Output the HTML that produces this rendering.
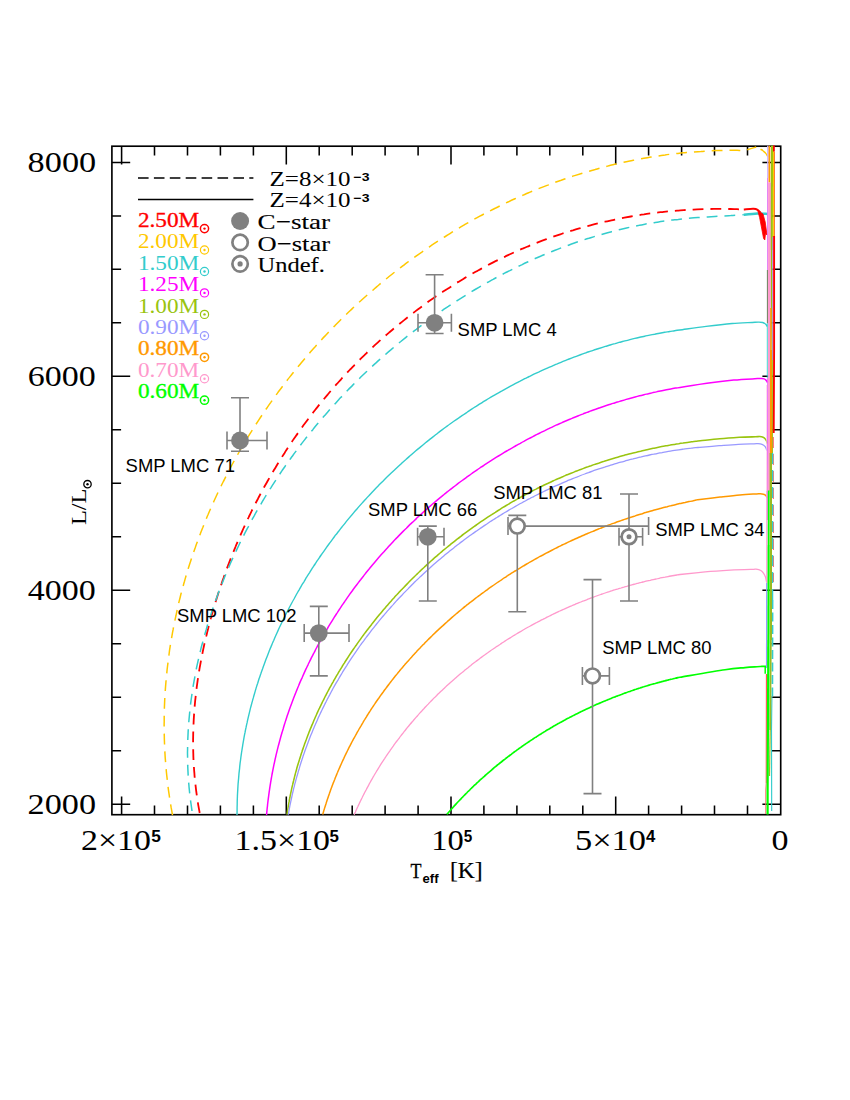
<!DOCTYPE html>
<html><head><meta charset="utf-8"><title>L vs Teff</title>
<style>html,body{margin:0;padding:0;background:#fff}svg{display:block}text{font-family:"Liberation Serif",serif}.s{font-family:"Liberation Sans",sans-serif}</style>
</head><body>
<svg width="850" height="1100" viewBox="0 0 850 1100">
<rect width="850" height="1100" fill="#fff"/>
<g stroke="#000" stroke-width="1.55" fill="none">
<path d="M747.5 814.8v-9.2M747.5 146.2v9.2M714.5 814.8v-9.2M714.5 146.2v9.2M681.6 814.8v-9.2M681.6 146.2v9.2M648.6 814.8v-9.2M648.6 146.2v9.2M615.7 814.8v-18.3M615.7 146.2v18.3M582.8 814.8v-9.2M582.8 146.2v9.2M549.8 814.8v-9.2M549.8 146.2v9.2M516.9 814.8v-9.2M516.9 146.2v9.2M483.9 814.8v-9.2M483.9 146.2v9.2M451.0 814.8v-18.3M451.0 146.2v18.3M418.1 814.8v-9.2M418.1 146.2v9.2M385.1 814.8v-9.2M385.1 146.2v9.2M352.2 814.8v-9.2M352.2 146.2v9.2M319.2 814.8v-9.2M319.2 146.2v9.2M286.3 814.8v-18.3M286.3 146.2v18.3M253.4 814.8v-9.2M253.4 146.2v9.2M220.4 814.8v-9.2M220.4 146.2v9.2M187.5 814.8v-9.2M187.5 146.2v9.2M154.5 814.8v-9.2M154.5 146.2v9.2M121.6 814.8v-18.3M121.6 146.2v18.3M111.9 804.3h18.3M780.7 804.3h-18.3M111.9 750.8h9.2M780.7 750.8h-9.2M111.9 697.3h9.2M780.7 697.3h-9.2M111.9 643.8h9.2M780.7 643.8h-9.2M111.9 590.3h18.3M780.7 590.3h-18.3M111.9 536.8h9.2M780.7 536.8h-9.2M111.9 483.3h9.2M780.7 483.3h-9.2M111.9 429.8h9.2M780.7 429.8h-9.2M111.9 376.3h18.3M780.7 376.3h-18.3M111.9 322.8h9.2M780.7 322.8h-9.2M111.9 269.3h9.2M780.7 269.3h-9.2M111.9 215.9h9.2M780.7 215.9h-9.2M111.9 162.4h18.3M780.7 162.4h-18.3"/>
</g>
<rect x="111.9" y="146.2" width="668.8" height="668.5" fill="none" stroke="#000" stroke-width="1.65"/>
<g fill="none" stroke-linejoin="round">
<path d="M172.5 815.1C172.3 813.9 171.7 810.3 171.2 807.9C170.8 805.5 170.4 803.1 170.1 800.8C169.7 798.4 169.3 796.0 169.0 793.6C168.6 791.2 168.3 788.8 168.0 786.4C167.7 784.0 167.4 781.6 167.2 779.2C166.9 776.8 166.6 774.4 166.4 772.0C166.2 769.6 166.0 767.2 165.8 764.8C165.6 762.4 165.4 760.0 165.2 757.6C165.1 755.2 164.9 752.8 164.8 750.4C164.7 748.0 164.6 745.6 164.5 743.2C164.4 740.9 164.3 738.5 164.3 736.1C164.2 733.7 164.2 731.3 164.2 728.9C164.1 726.5 164.1 724.1 164.2 721.7C164.2 719.4 164.2 717.0 164.2 714.6C164.3 712.2 164.4 709.8 164.4 707.5C164.5 705.1 164.6 702.7 164.7 700.3C164.8 697.9 165.0 695.6 165.1 693.2C165.3 690.8 165.4 688.5 165.6 686.1C165.8 683.7 166.0 681.4 166.2 679.0C166.4 676.6 166.7 674.3 166.9 671.9C167.1 669.5 167.4 667.2 167.7 664.8C168.0 662.5 168.3 660.1 168.6 657.8C168.9 655.4 169.2 653.1 169.5 650.7C169.9 648.4 170.2 646.0 170.6 643.7C171.0 641.4 171.4 639.0 171.8 636.7C172.2 634.4 172.6 632.0 173.1 629.7C173.5 627.4 173.9 625.0 174.4 622.7C174.9 620.4 175.4 618.1 175.9 615.8C176.4 613.5 176.9 611.1 177.4 608.8C177.9 606.5 178.5 604.2 179.0 601.9C179.6 599.6 180.2 597.3 180.7 595.0C181.3 592.7 181.9 590.4 182.6 588.2C183.2 585.9 183.8 583.6 184.5 581.3C185.1 579.0 185.8 576.8 186.4 574.5C187.1 572.2 187.8 570.0 188.5 567.7C189.2 565.4 189.9 563.2 190.7 560.9C191.4 558.7 192.2 556.4 192.9 554.2C193.7 551.9 194.5 549.7 195.3 547.5C196.0 545.2 196.9 543.0 197.7 540.8C198.5 538.6 199.3 536.3 200.2 534.1C201.0 531.9 201.9 529.7 202.8 527.5C203.6 525.3 204.5 523.1 205.4 520.9C206.3 518.7 207.2 516.5 208.2 514.3C209.1 512.1 210.0 510.0 211.0 507.8C212.0 505.6 212.9 503.4 213.9 501.3C214.9 499.1 215.9 497.0 216.9 494.8C217.9 492.7 218.9 490.5 220.0 488.4C221.0 486.2 222.0 484.1 223.1 482.0C224.2 479.9 225.2 477.7 226.3 475.6C227.4 473.5 228.5 471.4 229.6 469.3C230.7 467.2 231.9 465.1 233.0 463.0C234.1 460.9 235.3 458.8 236.5 456.8C237.6 454.7 238.8 452.6 240.0 450.5C241.2 448.5 242.4 446.4 243.6 444.4C244.8 442.3 246.0 440.3 247.3 438.2C248.5 436.2 249.7 434.2 251.0 432.2C252.3 430.1 253.5 428.1 254.8 426.1C256.1 424.1 257.4 422.1 258.7 420.1C260.0 418.1 261.3 416.1 262.7 414.2C264.0 412.2 265.3 410.2 266.7 408.3C268.0 406.3 269.4 404.3 270.8 402.4C272.2 400.4 273.5 398.5 274.9 396.6C276.3 394.6 277.8 392.7 279.2 390.8C280.6 388.9 282.0 387.0 283.5 385.1C284.9 383.2 286.4 381.3 287.8 379.4C289.3 377.5 290.8 375.7 292.3 373.8C293.8 371.9 295.3 370.1 296.8 368.2C298.3 366.4 299.8 364.5 301.3 362.7C302.9 360.9 304.4 359.0 305.9 357.2C307.5 355.4 309.1 353.6 310.6 351.8C312.2 350.0 313.8 348.2 315.4 346.5C317.0 344.7 318.6 342.9 320.2 341.2C321.8 339.4 323.4 337.6 325.1 335.9C326.7 334.2 328.3 332.4 330.0 330.7C331.6 329.0 333.3 327.3 335.0 325.6C336.6 323.9 338.3 322.2 340.0 320.5C341.7 318.8 343.4 317.1 345.1 315.5C346.8 313.8 348.5 312.2 350.3 310.5C352.0 308.9 353.7 307.2 355.5 305.6C357.2 304.0 359.0 302.4 360.8 300.8C362.5 299.2 364.3 297.6 366.1 296.0C367.9 294.4 369.7 292.8 371.5 291.3C373.3 289.7 375.1 288.2 376.9 286.6C378.7 285.1 380.5 283.5 382.4 282.0C384.2 280.5 386.1 279.0 387.9 277.5C389.8 276.0 391.6 274.5 393.5 273.0C395.4 271.6 397.3 270.1 399.2 268.7C401.0 267.2 402.9 265.8 404.8 264.3C406.7 262.9 408.7 261.5 410.6 260.1C412.5 258.7 414.4 257.3 416.4 255.9C418.3 254.5 420.2 253.1 422.2 251.8C424.2 250.4 426.1 249.0 428.1 247.7C430.0 246.4 432.0 245.0 434.0 243.7C436.0 242.4 438.0 241.1 440.0 239.8C442.0 238.5 444.0 237.2 446.0 236.0C448.0 234.7 450.0 233.5 452.1 232.2C454.1 231.0 456.1 229.7 458.2 228.5C460.2 227.3 462.3 226.1 464.3 224.9C466.4 223.7 468.4 222.5 470.5 221.4C472.6 220.2 474.6 219.0 476.7 217.9C478.8 216.8 480.9 215.6 483.0 214.5C485.1 213.4 487.2 212.3 489.3 211.2C491.4 210.1 493.5 209.0 495.7 208.0C497.8 206.9 499.9 205.9 502.1 204.8C504.2 203.8 506.3 202.8 508.5 201.8C510.6 200.7 512.8 199.7 514.9 198.8C517.1 197.8 519.3 196.8 521.4 195.9C523.6 194.9 525.8 194.0 528.0 193.0C530.2 192.1 532.4 191.2 534.6 190.3C536.7 189.4 538.9 188.5 541.2 187.6C543.4 186.8 545.6 185.9 547.8 185.1C550.0 184.2 552.2 183.4 554.5 182.6C556.7 181.7 558.9 180.9 561.2 180.2C563.4 179.4 565.7 178.6 567.9 177.8C570.2 177.1 572.4 176.3 574.7 175.6C576.9 174.9 579.2 174.2 581.5 173.5C583.7 172.8 586.0 172.1 588.3 171.4C590.6 170.8 592.8 170.1 595.1 169.5C597.4 168.8 599.7 168.2 602.0 167.6C604.3 167.0 606.6 166.4 608.9 165.8C611.2 165.2 613.5 164.7 615.9 164.1C618.2 163.6 620.5 163.0 622.8 162.5C625.1 162.0 627.5 161.5 629.8 161.0C632.1 160.5 634.5 160.1 636.8 159.6C639.2 159.2 641.5 158.7 643.8 158.3C646.2 157.9 648.5 157.5 650.9 157.1C653.3 156.7 655.6 156.3 658.0 156.0C660.3 155.6 662.7 155.3 665.1 155.0C667.4 154.6 669.8 154.3 672.2 154.0C674.6 153.7 677.0 153.5 679.3 153.2C681.7 153.0 684.1 152.7 686.5 152.5C688.9 152.3 691.3 152.1 693.7 151.9C696.1 151.7 698.5 151.5 700.9 151.4C703.3 151.2 705.7 151.1 708.1 150.9C710.5 150.8 712.9 150.7 715.3 150.6C717.7 150.5 720.1 150.5 722.6 150.4C725.0 150.4 727.4 150.3 729.8 150.3C732.2 150.3 734.7 150.3 737.1 150.3C739.5 150.3 741.2 151.0 744.4 150.4C747.6 149.9 754.2 147.6 756.2 147.0" stroke="#ffc800" stroke-width="1.5" stroke-dasharray="10.8 7"/>
<path d="M199.7 813.0C199.5 811.9 198.9 808.6 198.5 806.4C198.1 804.2 197.8 802.0 197.4 799.8C197.1 797.6 196.8 795.4 196.5 793.2C196.2 791.0 195.9 788.8 195.7 786.6C195.4 784.4 195.2 782.2 194.9 780.0C194.7 777.8 194.5 775.6 194.4 773.3C194.2 771.1 194.0 768.9 193.9 766.7C193.7 764.5 193.6 762.3 193.5 760.1C193.4 757.9 193.3 755.7 193.3 753.5C193.2 751.3 193.2 749.0 193.2 746.8C193.1 744.6 193.1 742.4 193.1 740.2C193.1 738.0 193.2 735.8 193.2 733.6C193.3 731.4 193.3 729.2 193.4 727.0C193.5 724.8 193.6 722.6 193.7 720.3C193.8 718.1 194.0 715.9 194.1 713.7C194.3 711.5 194.4 709.3 194.6 707.1C194.8 704.9 195.0 702.7 195.2 700.5C195.5 698.3 195.7 696.1 195.9 694.0C196.2 691.8 196.5 689.6 196.7 687.4C197.0 685.2 197.3 683.0 197.6 680.8C198.0 678.6 198.3 676.4 198.6 674.3C199.0 672.1 199.3 669.9 199.7 667.7C200.1 665.5 200.5 663.3 200.9 661.2C201.3 659.0 201.7 656.8 202.2 654.7C202.6 652.5 203.0 650.3 203.5 648.1C204.0 646.0 204.4 643.8 204.9 641.7C205.4 639.5 205.9 637.3 206.5 635.2C207.0 633.0 207.5 630.9 208.1 628.7C208.6 626.6 209.2 624.4 209.7 622.3C210.3 620.2 210.9 618.0 211.5 615.9C212.1 613.7 212.7 611.6 213.3 609.5C213.9 607.3 214.6 605.2 215.2 603.1C215.9 601.0 216.5 598.9 217.2 596.7C217.9 594.6 218.6 592.5 219.2 590.4C219.9 588.3 220.6 586.2 221.4 584.1C222.1 582.0 222.8 579.9 223.6 577.8C224.3 575.7 225.0 573.6 225.8 571.6C226.6 569.5 227.3 567.4 228.1 565.3C228.9 563.3 229.7 561.2 230.5 559.1C231.3 557.1 232.1 555.0 233.0 552.9C233.8 550.9 234.6 548.8 235.5 546.8C236.3 544.7 237.2 542.7 238.1 540.7C238.9 538.6 239.8 536.6 240.7 534.6C241.6 532.6 242.5 530.5 243.4 528.5C244.3 526.5 245.3 524.5 246.2 522.5C247.1 520.5 248.1 518.5 249.0 516.5C250.0 514.5 251.0 512.5 251.9 510.5C252.9 508.5 253.9 506.6 254.9 504.6C255.9 502.6 256.9 500.7 258.0 498.7C259.0 496.7 260.0 494.8 261.1 492.8C262.1 490.9 263.2 489.0 264.2 487.0C265.3 485.1 266.4 483.2 267.5 481.2C268.6 479.3 269.7 477.4 270.8 475.5C271.9 473.6 273.0 471.7 274.1 469.8C275.3 467.9 276.4 466.0 277.6 464.1C278.7 462.2 279.9 460.3 281.0 458.5C282.2 456.6 283.4 454.7 284.6 452.9C285.8 451.0 287.0 449.2 288.2 447.3C289.4 445.5 290.7 443.6 291.9 441.8C293.1 440.0 294.4 438.2 295.7 436.3C296.9 434.5 298.2 432.7 299.5 430.9C300.7 429.1 302.0 427.3 303.3 425.5C304.6 423.8 306.0 422.0 307.3 420.2C308.6 418.4 309.9 416.7 311.3 414.9C312.6 413.2 314.0 411.4 315.3 409.7C316.7 408.0 318.1 406.2 319.5 404.5C320.9 402.8 322.3 401.1 323.7 399.4C325.1 397.6 326.5 395.9 327.9 394.3C329.3 392.6 330.8 390.9 332.2 389.2C333.7 387.5 335.1 385.9 336.6 384.2C338.1 382.6 339.6 380.9 341.1 379.3C342.5 377.6 344.1 376.0 345.6 374.4C347.1 372.8 348.6 371.1 350.1 369.5C351.7 367.9 353.2 366.3 354.7 364.8C356.3 363.2 357.9 361.6 359.4 360.0C361.0 358.5 362.6 356.9 364.2 355.4C365.8 353.8 367.4 352.3 369.0 350.7C370.6 349.2 372.2 347.7 373.8 346.2C375.4 344.7 377.1 343.2 378.7 341.7C380.4 340.2 382.0 338.7 383.7 337.2C385.3 335.8 387.0 334.3 388.7 332.9C390.4 331.4 392.1 330.0 393.8 328.5C395.5 327.1 397.2 325.7 398.9 324.3C400.6 322.9 402.3 321.5 404.1 320.1C405.8 318.7 407.5 317.3 409.3 316.0C411.0 314.6 412.8 313.3 414.6 311.9C416.3 310.6 418.1 309.2 419.9 307.9C421.7 306.6 423.4 305.3 425.2 304.0C427.0 302.7 428.8 301.4 430.7 300.1C432.5 298.9 434.3 297.6 436.1 296.3C438.0 295.1 439.8 293.8 441.6 292.6C443.5 291.4 445.3 290.2 447.2 289.0C449.0 287.8 450.9 286.6 452.8 285.4C454.7 284.2 456.5 283.0 458.4 281.9C460.3 280.7 462.2 279.6 464.1 278.4C466.0 277.3 467.9 276.2 469.8 275.1C471.8 274.0 473.7 272.9 475.6 271.8C477.5 270.7 479.5 269.7 481.4 268.6C483.4 267.5 485.3 266.5 487.3 265.5C489.2 264.4 491.2 263.4 493.2 262.4C495.1 261.4 497.1 260.4 499.1 259.5C501.1 258.5 503.1 257.5 505.1 256.6C507.1 255.6 509.1 254.7 511.1 253.7C513.1 252.8 515.1 251.9 517.1 251.0C519.1 250.1 521.1 249.2 523.2 248.4C525.2 247.5 527.2 246.7 529.3 245.8C531.3 245.0 533.4 244.1 535.4 243.3C537.5 242.5 539.5 241.7 541.6 240.9C543.7 240.2 545.7 239.4 547.8 238.6C549.9 237.9 551.9 237.1 554.0 236.4C556.1 235.7 558.2 235.0 560.3 234.3C562.4 233.6 564.5 232.9 566.6 232.2C568.7 231.6 570.8 230.9 572.9 230.3C575.0 229.6 577.1 229.0 579.3 228.4C581.4 227.8 583.5 227.2 585.6 226.6C587.8 226.0 589.9 225.5 592.0 224.9C594.2 224.3 596.3 223.8 598.5 223.3C600.6 222.8 602.7 222.2 604.9 221.7C607.1 221.3 609.2 220.8 611.4 220.3C613.5 219.8 615.7 219.4 617.9 218.9C620.0 218.5 622.2 218.1 624.4 217.7C626.5 217.3 628.7 216.9 630.9 216.5C633.1 216.1 635.3 215.7 637.4 215.4C639.6 215.0 641.8 214.7 644.0 214.4C646.2 214.0 648.4 213.7 650.6 213.4C652.8 213.1 655.0 212.9 657.2 212.6C659.4 212.3 661.6 212.1 663.8 211.8C666.0 211.6 668.2 211.4 670.4 211.2C672.6 211.0 674.8 210.8 677.0 210.6C679.2 210.4 681.5 210.3 683.7 210.1C685.9 210.0 688.1 209.8 690.3 209.7C692.5 209.6 694.8 209.5 697.0 209.4C699.2 209.3 701.4 209.2 703.7 209.1C705.9 209.1 708.1 209.0 710.3 209.0C712.6 209.0 714.8 208.9 717.0 208.9C719.2 208.9 721.5 208.9 723.7 208.9C725.9 209.0 728.2 209.0 730.4 209.0C732.6 209.1 734.8 209.2 737.1 209.2C739.3 209.3 742.6 209.4 743.8 209.5" stroke="#ff0000" stroke-width="1.8" stroke-dasharray="10.8 7"/>
<path d="M743.8 209.5C745.4 209.4 751.1 208.7 753.4 208.8C755.7 208.9 756.4 209.2 757.6 209.9C758.8 210.6 760.0 212.2 760.5 212.7" stroke="#ff0000" stroke-width="2.0"/>
<path d="M192.0 811.0C191.9 809.9 191.4 806.7 191.1 804.5C190.8 802.4 190.5 800.2 190.2 798.0C189.9 795.8 189.7 793.7 189.5 791.5C189.3 789.3 189.0 787.1 188.9 785.0C188.7 782.8 188.5 780.6 188.4 778.4C188.2 776.3 188.1 774.1 188.0 771.9C187.9 769.7 187.8 767.6 187.7 765.4C187.7 763.2 187.6 761.0 187.6 758.8C187.6 756.7 187.5 754.5 187.5 752.3C187.6 750.1 187.6 748.0 187.6 745.8C187.7 743.6 187.7 741.4 187.8 739.3C187.9 737.1 188.0 734.9 188.1 732.7C188.2 730.6 188.3 728.4 188.5 726.2C188.6 724.1 188.8 721.9 189.0 719.7C189.2 717.6 189.4 715.4 189.6 713.2C189.8 711.1 190.0 708.9 190.3 706.7C190.5 704.6 190.8 702.4 191.1 700.2C191.4 698.1 191.7 695.9 192.0 693.8C192.3 691.6 192.6 689.5 193.0 687.3C193.3 685.2 193.7 683.0 194.1 680.9C194.5 678.7 194.9 676.6 195.3 674.4C195.7 672.3 196.1 670.2 196.5 668.0C197.0 665.9 197.4 663.8 197.9 661.6C198.4 659.5 198.9 657.4 199.4 655.2C199.9 653.1 200.4 651.0 200.9 648.9C201.4 646.8 202.0 644.6 202.6 642.5C203.1 640.4 203.7 638.3 204.3 636.2C204.9 634.1 205.5 632.0 206.1 629.9C206.7 627.8 207.3 625.7 207.9 623.6C208.6 621.5 209.2 619.4 209.9 617.4C210.6 615.3 211.3 613.2 212.0 611.1C212.6 609.1 213.4 607.0 214.1 604.9C214.8 602.9 215.5 600.8 216.3 598.8C217.0 596.7 217.8 594.7 218.5 592.6C219.3 590.6 220.1 588.5 220.9 586.5C221.7 584.5 222.5 582.4 223.3 580.4C224.1 578.4 224.9 576.4 225.8 574.3C226.6 572.3 227.5 570.3 228.3 568.3C229.2 566.3 230.0 564.3 230.9 562.3C231.8 560.3 232.7 558.3 233.6 556.4C234.5 554.4 235.4 552.4 236.4 550.4C237.3 548.5 238.2 546.5 239.2 544.5C240.1 542.6 241.1 540.6 242.1 538.7C243.1 536.7 244.0 534.8 245.0 532.9C246.0 530.9 247.0 529.0 248.1 527.1C249.1 525.2 250.1 523.2 251.1 521.3C252.2 519.4 253.2 517.5 254.3 515.6C255.3 513.7 256.4 511.8 257.5 509.9C258.6 508.0 259.7 506.2 260.8 504.3C261.9 502.4 263.0 500.5 264.1 498.7C265.2 496.8 266.4 495.0 267.5 493.1C268.6 491.3 269.8 489.4 271.0 487.6C272.1 485.7 273.3 483.9 274.5 482.1C275.7 480.3 276.9 478.4 278.1 476.6C279.3 474.8 280.5 473.0 281.7 471.2C282.9 469.4 284.2 467.6 285.4 465.8C286.7 464.1 287.9 462.3 289.2 460.5C290.4 458.7 291.7 457.0 293.0 455.2C294.3 453.4 295.6 451.7 296.9 450.0C298.2 448.2 299.5 446.5 300.8 444.7C302.1 443.0 303.5 441.3 304.8 439.6C306.1 437.9 307.5 436.1 308.9 434.4C310.2 432.7 311.6 431.0 313.0 429.4C314.3 427.7 315.7 426.0 317.1 424.3C318.5 422.6 319.9 421.0 321.3 419.3C322.7 417.6 324.2 416.0 325.6 414.4C327.0 412.7 328.5 411.1 329.9 409.4C331.4 407.8 332.8 406.2 334.3 404.6C335.8 403.0 337.2 401.3 338.7 399.7C340.2 398.1 341.7 396.6 343.2 395.0C344.7 393.4 346.2 391.8 347.7 390.2C349.3 388.7 350.8 387.1 352.3 385.6C353.9 384.0 355.4 382.5 357.0 380.9C358.5 379.4 360.1 377.9 361.6 376.3C363.2 374.8 364.8 373.3 366.4 371.8C368.0 370.3 369.6 368.8 371.2 367.3C372.8 365.8 374.4 364.3 376.0 362.9C377.6 361.4 379.2 359.9 380.9 358.5C382.5 357.0 384.1 355.6 385.8 354.2C387.4 352.7 389.1 351.3 390.8 349.9C392.4 348.5 394.1 347.0 395.8 345.6C397.4 344.2 399.1 342.8 400.8 341.5C402.5 340.1 404.2 338.7 405.9 337.3C407.6 336.0 409.4 334.6 411.1 333.3C412.8 331.9 414.5 330.6 416.3 329.3C418.0 327.9 419.7 326.6 421.5 325.3C423.2 324.0 425.0 322.7 426.8 321.4C428.5 320.1 430.3 318.9 432.1 317.6C433.9 316.3 435.6 315.1 437.4 313.8C439.2 312.6 441.0 311.3 442.8 310.1C444.6 308.9 446.4 307.6 448.3 306.4C450.1 305.2 451.9 304.0 453.7 302.8C455.6 301.6 457.4 300.4 459.2 299.3C461.1 298.1 462.9 297.0 464.8 295.8C466.6 294.7 468.5 293.5 470.4 292.4C472.2 291.3 474.1 290.1 476.0 289.0C477.9 287.9 479.8 286.8 481.6 285.7C483.5 284.7 485.4 283.6 487.3 282.5C489.2 281.5 491.1 280.4 493.1 279.4C495.0 278.3 496.9 277.3 498.8 276.3C500.7 275.2 502.7 274.2 504.6 273.2C506.5 272.2 508.5 271.3 510.4 270.3C512.4 269.3 514.3 268.3 516.3 267.4C518.2 266.4 520.2 265.5 522.2 264.6C524.1 263.6 526.1 262.7 528.1 261.8C530.1 260.9 532.0 260.0 534.0 259.1C536.0 258.2 538.0 257.4 540.0 256.5C542.0 255.6 544.0 254.8 546.0 254.0C548.0 253.1 550.0 252.3 552.0 251.5C554.0 250.7 556.1 249.9 558.1 249.1C560.1 248.3 562.1 247.5 564.2 246.8C566.2 246.0 568.3 245.3 570.3 244.5C572.3 243.8 574.4 243.1 576.4 242.3C578.5 241.6 580.5 240.9 582.6 240.3C584.7 239.6 586.7 238.9 588.8 238.3C590.9 237.6 593.0 237.0 595.0 236.3C597.1 235.7 599.2 235.1 601.3 234.5C603.4 233.9 605.5 233.3 607.6 232.7C609.6 232.2 611.8 231.6 613.9 231.1C616.0 230.5 618.1 230.0 620.2 229.5C622.3 229.0 624.4 228.5 626.5 228.0C628.7 227.5 630.8 227.0 632.9 226.6C635.0 226.1 637.2 225.7 639.3 225.3C641.4 224.8 643.6 224.4 645.7 224.0C647.9 223.7 650.0 223.3 652.2 222.9C654.3 222.6 656.5 222.2 658.7 221.9C660.8 221.6 663.0 221.2 665.1 221.0C667.3 220.7 669.5 220.4 671.7 220.1C673.8 219.9 676.0 219.6 678.2 219.4C680.4 219.1 682.6 218.9 684.8 218.7C687.0 218.5 689.1 218.3 691.3 218.1C693.5 218.0 695.7 217.8 697.9 217.6C700.1 217.5 702.3 217.3 704.5 217.2C706.7 217.0 708.9 216.9 711.1 216.7C713.3 216.6 715.5 216.5 717.6 216.3C719.8 216.2 722.0 216.1 724.2 215.9C726.4 215.8 728.6 215.7 730.8 215.6C732.9 215.4 735.1 215.3 737.3 215.2C739.5 215.0 742.7 214.8 743.8 214.8" stroke="#33cccc" stroke-width="1.5" stroke-dasharray="10.8 7"/>
<path d="M743.8 214.8C746.1 214.5 753.6 213.5 757.6 213.4C761.6 213.3 765.9 213.9 767.5 214.0" stroke="#33cccc" stroke-width="2.5"/>
<path d="M237.0 814.9C237.0 814.1 237.1 811.4 237.1 809.7C237.1 808.0 237.1 806.2 237.2 804.5C237.2 802.7 237.2 801.0 237.3 799.3C237.4 797.5 237.4 795.8 237.5 794.1C237.6 792.3 237.7 790.6 237.8 788.9C237.9 787.2 238.0 785.4 238.1 783.7C238.3 782.0 238.4 780.3 238.6 778.6C238.7 776.8 238.9 775.1 239.0 773.4C239.2 771.7 239.4 770.0 239.6 768.3C239.7 766.6 239.9 764.9 240.1 763.2C240.4 761.4 240.6 759.7 240.8 758.0C241.0 756.3 241.3 754.6 241.5 752.9C241.8 751.3 242.0 749.6 242.3 747.9C242.6 746.2 242.8 744.5 243.1 742.8C243.4 741.1 243.7 739.4 244.0 737.7C244.3 736.1 244.6 734.4 245.0 732.7C245.3 731.0 245.6 729.4 246.0 727.7C246.3 726.0 246.7 724.3 247.1 722.7C247.4 721.0 247.8 719.3 248.2 717.7C248.6 716.0 249.0 714.4 249.4 712.7C249.8 711.0 250.2 709.4 250.6 707.7C251.0 706.1 251.5 704.4 251.9 702.8C252.4 701.2 252.8 699.5 253.3 697.9C253.7 696.2 254.2 694.6 254.7 693.0C255.2 691.3 255.6 689.7 256.1 688.1C256.6 686.4 257.1 684.8 257.7 683.2C258.2 681.6 258.7 680.0 259.2 678.3C259.8 676.7 260.3 675.1 260.9 673.5C261.4 671.9 262.0 670.3 262.6 668.7C263.1 667.1 263.7 665.5 264.3 663.9C264.9 662.3 265.5 660.7 266.1 659.1C266.7 657.5 267.3 655.9 267.9 654.4C268.5 652.8 269.2 651.2 269.8 649.6C270.5 648.1 271.1 646.5 271.8 644.9C272.4 643.3 273.1 641.8 273.8 640.2C274.4 638.7 275.1 637.1 275.8 635.5C276.5 634.0 277.2 632.4 277.9 630.9C278.6 629.3 279.3 627.8 280.0 626.3C280.8 624.7 281.5 623.2 282.2 621.7C283.0 620.1 283.7 618.6 284.5 617.1C285.2 615.6 286.0 614.0 286.8 612.5C287.6 611.0 288.3 609.5 289.1 608.0C289.9 606.5 290.7 605.0 291.5 603.5C292.3 602.0 293.1 600.5 294.0 599.0C294.8 597.5 295.6 596.0 296.4 594.5C297.3 593.0 298.1 591.5 299.0 590.1C299.8 588.6 300.7 587.1 301.5 585.6C302.4 584.2 303.3 582.7 304.2 581.3C305.1 579.8 305.9 578.3 306.8 576.9C307.7 575.4 308.6 574.0 309.6 572.6C310.5 571.1 311.4 569.7 312.3 568.2C313.2 566.8 314.2 565.4 315.1 564.0C316.1 562.5 317.0 561.1 318.0 559.7C318.9 558.3 319.9 556.9 320.8 555.5C321.8 554.1 322.8 552.7 323.8 551.3C324.8 549.9 325.8 548.5 326.7 547.1C327.7 545.7 328.8 544.3 329.8 542.9C330.8 541.6 331.8 540.2 332.8 538.8C333.8 537.4 334.9 536.1 335.9 534.7C337.0 533.4 338.0 532.0 339.1 530.7C340.1 529.3 341.2 528.0 342.2 526.6C343.3 525.3 344.4 524.0 345.5 522.6C346.5 521.3 347.6 520.0 348.7 518.6C349.8 517.3 350.9 516.0 352.0 514.7C353.1 513.4 354.2 512.1 355.3 510.8C356.5 509.5 357.6 508.2 358.7 506.9C359.8 505.6 361.0 504.3 362.1 503.1C363.3 501.8 364.4 500.5 365.6 499.3C366.7 498.0 367.9 496.7 369.1 495.5C370.2 494.2 371.4 493.0 372.6 491.7C373.8 490.5 375.0 489.2 376.1 488.0C377.3 486.8 378.5 485.5 379.7 484.3C380.9 483.1 382.2 481.9 383.4 480.7C384.6 479.4 385.8 478.2 387.0 477.0C388.3 475.8 389.5 474.6 390.7 473.5C392.0 472.3 393.2 471.1 394.5 469.9C395.7 468.7 397.0 467.6 398.2 466.4C399.5 465.2 400.8 464.1 402.0 462.9C403.3 461.8 404.6 460.6 405.9 459.5C407.1 458.3 408.4 457.2 409.7 456.1C411.0 454.9 412.3 453.8 413.6 452.7C414.9 451.6 416.2 450.5 417.5 449.4C418.9 448.2 420.2 447.1 421.5 446.1C422.8 445.0 424.2 443.9 425.5 442.8C426.8 441.7 428.2 440.6 429.5 439.6C430.9 438.5 432.2 437.4 433.6 436.4C434.9 435.3 436.3 434.3 437.6 433.2C439.0 432.2 440.4 431.1 441.7 430.1C443.1 429.1 444.5 428.1 445.9 427.0C447.3 426.0 448.6 425.0 450.0 424.0C451.4 423.0 452.8 422.0 454.2 421.0C455.6 420.0 457.0 419.0 458.5 418.1C459.9 417.1 461.3 416.1 462.7 415.2C464.1 414.2 465.5 413.2 467.0 412.3C468.4 411.3 469.8 410.4 471.3 409.4C472.7 408.5 474.1 407.6 475.6 406.7C477.0 405.7 478.5 404.8 479.9 403.9C481.4 403.0 482.8 402.1 484.3 401.2C485.8 400.3 487.2 399.4 488.7 398.5C490.2 397.6 491.6 396.8 493.1 395.9C494.6 395.0 496.1 394.2 497.6 393.3C499.1 392.5 500.5 391.6 502.0 390.8C503.5 389.9 505.0 389.1 506.5 388.3C508.0 387.5 509.5 386.6 511.0 385.8C512.6 385.0 514.1 384.2 515.6 383.4C517.1 382.6 518.6 381.8 520.1 381.1C521.7 380.3 523.2 379.5 524.7 378.7C526.2 378.0 527.8 377.2 529.3 376.5C530.8 375.7 532.4 375.0 533.9 374.2C535.5 373.5 537.0 372.8 538.6 372.1C540.1 371.3 541.7 370.6 543.2 369.9C544.8 369.2 546.3 368.5 547.9 367.8C549.5 367.1 551.0 366.5 552.6 365.8C554.2 365.1 555.7 364.4 557.3 363.8C558.9 363.1 560.4 362.5 562.0 361.8C563.6 361.2 565.2 360.5 566.8 359.9C568.4 359.3 569.9 358.7 571.5 358.1C573.1 357.5 574.7 356.9 576.3 356.3C577.9 355.7 579.5 355.1 581.1 354.5C582.7 353.9 584.3 353.4 585.9 352.8C587.5 352.2 589.1 351.7 590.8 351.1C592.4 350.6 594.0 350.0 595.6 349.5C597.2 349.0 598.8 348.5 600.4 348.0C602.1 347.4 603.7 346.9 605.3 346.4C606.9 345.9 608.6 345.5 610.2 345.0C611.8 344.5 613.5 344.0 615.1 343.6C616.7 343.1 618.4 342.7 620.0 342.2C621.6 341.8 623.3 341.3 624.9 340.9C626.6 340.5 628.2 340.1 629.9 339.6C631.5 339.2 633.1 338.8 634.8 338.4C636.4 338.1 638.1 337.7 639.8 337.3C641.4 336.9 643.1 336.6 644.7 336.2C646.4 335.8 648.0 335.5 649.7 335.1C651.4 334.8 653.0 334.5 654.7 334.2C656.3 333.8 658.0 333.5 659.7 333.2C661.3 332.9 663.0 332.6 664.7 332.3C666.3 332.0 668.0 331.8 669.7 331.5C671.4 331.2 673.0 331.0 674.7 330.7C676.4 330.5 674.5 330.7 679.7 330.0C685.0 329.3 697.3 327.4 706.1 326.4C714.8 325.3 724.0 324.2 732.1 323.5C740.3 322.9 750.5 322.5 755.0 322.2C759.5 322.0 757.7 322.1 759.0 322.1C760.3 322.1 761.6 322.3 762.6 322.5C763.6 322.8 764.2 323.1 764.8 323.5C765.4 323.9 765.8 324.3 766.2 324.8C766.6 325.3 766.9 326.2 767.0 326.5" stroke="#33cccc" stroke-width="1.4"/>
<path d="M266.6 815.0C266.6 814.2 266.8 811.8 267.0 810.3C267.1 808.7 267.3 807.2 267.5 805.6C267.6 804.1 267.8 802.5 268.0 801.0C268.2 799.5 268.4 797.9 268.6 796.4C268.8 794.8 269.0 793.3 269.2 791.8C269.4 790.2 269.7 788.7 269.9 787.2C270.1 785.6 270.4 784.1 270.6 782.6C270.9 781.1 271.1 779.5 271.4 778.0C271.7 776.5 271.9 775.0 272.2 773.5C272.5 771.9 272.8 770.4 273.1 768.9C273.4 767.4 273.7 765.9 274.0 764.4C274.4 762.9 274.7 761.4 275.0 759.9C275.3 758.4 275.7 756.9 276.0 755.4C276.4 753.9 276.7 752.4 277.1 750.9C277.5 749.4 277.8 747.9 278.2 746.4C278.6 744.9 279.0 743.5 279.4 742.0C279.8 740.5 280.2 739.0 280.6 737.5C281.0 736.1 281.4 734.6 281.9 733.1C282.3 731.7 282.7 730.2 283.2 728.7C283.6 727.3 284.0 725.8 284.5 724.3C285.0 722.9 285.4 721.4 285.9 720.0C286.4 718.5 286.8 717.1 287.3 715.6C287.8 714.2 288.3 712.7 288.8 711.3C289.3 709.8 289.8 708.4 290.3 707.0C290.9 705.5 291.4 704.1 291.9 702.7C292.4 701.2 293.0 699.8 293.5 698.4C294.1 697.0 294.6 695.5 295.2 694.1C295.8 692.7 296.3 691.3 296.9 689.9C297.5 688.5 298.0 687.1 298.6 685.7C299.2 684.2 299.8 682.8 300.4 681.4C301.0 680.0 301.6 678.7 302.3 677.3C302.9 675.9 303.5 674.5 304.1 673.1C304.8 671.7 305.4 670.3 306.0 668.9C306.7 667.6 307.3 666.2 308.0 664.8C308.6 663.4 309.3 662.1 310.0 660.7C310.7 659.3 311.3 658.0 312.0 656.6C312.7 655.3 313.4 653.9 314.1 652.6C314.8 651.2 315.5 649.9 316.2 648.5C316.9 647.2 317.6 645.8 318.4 644.5C319.1 643.1 319.8 641.8 320.6 640.5C321.3 639.1 322.0 637.8 322.8 636.5C323.5 635.2 324.3 633.9 325.1 632.5C325.8 631.2 326.6 629.9 327.4 628.6C328.1 627.3 328.9 626.0 329.7 624.7C330.5 623.4 331.3 622.1 332.1 620.8C332.9 619.5 333.7 618.2 334.5 616.9C335.3 615.6 336.2 614.3 337.0 613.1C337.8 611.8 338.6 610.5 339.5 609.2C340.3 608.0 341.2 606.7 342.0 605.4C342.9 604.2 343.7 602.9 344.6 601.7C345.5 600.4 346.3 599.2 347.2 597.9C348.1 596.7 349.0 595.4 349.8 594.2C350.7 592.9 351.6 591.7 352.5 590.5C353.4 589.2 354.3 588.0 355.2 586.8C356.1 585.6 357.1 584.3 358.0 583.1C358.9 581.9 359.8 580.7 360.8 579.5C361.7 578.3 362.6 577.1 363.6 575.9C364.5 574.7 365.5 573.5 366.4 572.3C367.4 571.1 368.3 569.9 369.3 568.8C370.3 567.6 371.2 566.4 372.2 565.2C373.2 564.0 374.2 562.9 375.2 561.7C376.1 560.6 377.1 559.4 378.1 558.2C379.1 557.1 380.1 555.9 381.1 554.8C382.2 553.6 383.2 552.5 384.2 551.4C385.2 550.2 386.2 549.1 387.3 548.0C388.3 546.8 389.3 545.7 390.4 544.6C391.4 543.5 392.5 542.4 393.5 541.2C394.6 540.1 395.6 539.0 396.7 537.9C397.7 536.8 398.8 535.7 399.9 534.6C400.9 533.6 402.0 532.5 403.1 531.4C404.2 530.3 405.3 529.2 406.4 528.2C407.4 527.1 408.5 526.0 409.6 524.9C410.7 523.9 411.8 522.8 413.0 521.8C414.1 520.7 415.2 519.7 416.3 518.6C417.4 517.6 418.5 516.5 419.7 515.5C420.8 514.5 421.9 513.5 423.1 512.4C424.2 511.4 425.3 510.4 426.5 509.4C427.6 508.4 428.8 507.3 429.9 506.3C431.1 505.3 432.3 504.3 433.4 503.3C434.6 502.4 435.8 501.4 436.9 500.4C438.1 499.4 439.3 498.4 440.5 497.4C441.7 496.5 442.8 495.5 444.0 494.5C445.2 493.6 446.4 492.6 447.6 491.7C448.8 490.7 450.0 489.8 451.2 488.8C452.4 487.9 453.7 486.9 454.9 486.0C456.1 485.1 457.3 484.2 458.5 483.2C459.8 482.3 461.0 481.4 462.2 480.5C463.5 479.6 464.7 478.7 465.9 477.8C467.2 476.9 468.4 476.0 469.7 475.1C470.9 474.2 472.2 473.3 473.4 472.4C474.7 471.6 475.9 470.7 477.2 469.8C478.5 469.0 479.7 468.1 481.0 467.2C482.3 466.4 483.6 465.5 484.8 464.7C486.1 463.8 487.4 463.0 488.7 462.2C490.0 461.3 491.3 460.5 492.6 459.7C493.9 458.9 495.2 458.0 496.5 457.2C497.8 456.4 499.1 455.6 500.4 454.8C501.7 454.0 503.0 453.2 504.3 452.4C505.6 451.7 506.9 450.9 508.3 450.1C509.6 449.3 510.9 448.5 512.2 447.8C513.6 447.0 514.9 446.3 516.2 445.5C517.6 444.8 518.9 444.0 520.3 443.3C521.6 442.5 522.9 441.8 524.3 441.1C525.6 440.3 527.0 439.6 528.3 438.9C529.7 438.2 531.1 437.5 532.4 436.8C533.8 436.1 535.2 435.4 536.5 434.7C537.9 434.0 539.3 433.3 540.6 432.6C542.0 431.9 543.4 431.3 544.8 430.6C546.1 429.9 547.5 429.3 548.9 428.6C550.3 427.9 551.7 427.3 553.1 426.6C554.5 426.0 555.9 425.4 557.3 424.7C558.7 424.1 560.1 423.5 561.5 422.9C562.9 422.2 564.3 421.6 565.7 421.0C567.1 420.4 568.5 419.8 569.9 419.2C571.3 418.6 572.7 418.1 574.1 417.5C575.6 416.9 577.0 416.3 578.4 415.7C579.8 415.2 581.3 414.6 582.7 414.1C584.1 413.5 585.5 413.0 587.0 412.4C588.4 411.9 589.8 411.3 591.3 410.8C592.7 410.3 594.2 409.8 595.6 409.3C597.0 408.7 598.5 408.2 599.9 407.7C601.4 407.2 602.8 406.7 604.3 406.2C605.7 405.8 607.2 405.3 608.6 404.8C610.1 404.3 611.6 403.9 613.0 403.4C614.5 402.9 615.9 402.5 617.4 402.0C618.9 401.6 620.3 401.1 621.8 400.7C623.3 400.3 624.7 399.9 626.2 399.4C627.7 399.0 629.2 398.6 630.6 398.2C632.1 397.8 633.6 397.4 635.1 397.0C636.6 396.6 638.0 396.2 639.5 395.8C641.0 395.5 642.5 395.1 644.0 394.7C645.5 394.4 647.0 394.0 648.4 393.7C649.9 393.3 651.4 393.0 652.9 392.6C654.4 392.3 655.9 392.0 657.4 391.6C658.9 391.3 660.4 391.0 661.9 390.7C663.4 390.4 664.9 390.1 666.4 389.8C667.9 389.5 669.4 389.2 670.9 388.9C672.4 388.7 673.9 388.4 675.4 388.1C677.0 387.9 674.7 388.2 680.0 387.4C685.2 386.5 697.9 384.5 706.9 383.2C715.9 382.0 725.4 380.9 733.8 380.1C742.2 379.3 752.9 378.9 757.5 378.6C762.1 378.4 760.4 378.5 761.5 378.5C762.6 378.5 763.4 378.7 764.1 378.9C764.8 379.1 765.2 379.4 765.7 379.8C766.1 380.1 766.4 380.5 766.7 381.0C767.0 381.4 767.2 382.2 767.3 382.5" stroke="#ff00ff" stroke-width="1.5"/>
<path d="M287.0 814.5C287.1 813.8 287.4 811.6 287.6 810.2C287.9 808.8 288.1 807.4 288.3 806.0C288.6 804.6 288.8 803.1 289.1 801.7C289.3 800.3 289.6 798.9 289.9 797.5C290.1 796.1 290.4 794.7 290.7 793.3C291.0 791.9 291.3 790.5 291.6 789.1C291.9 787.7 292.2 786.3 292.6 784.9C292.9 783.5 293.2 782.1 293.6 780.7C293.9 779.4 294.3 778.0 294.6 776.6C295.0 775.2 295.3 773.8 295.7 772.4C296.1 771.1 296.5 769.7 296.8 768.3C297.2 766.9 297.6 765.6 298.0 764.2C298.4 762.8 298.9 761.5 299.3 760.1C299.7 758.7 300.1 757.4 300.6 756.0C301.0 754.7 301.4 753.3 301.9 751.9C302.3 750.6 302.8 749.2 303.3 747.9C303.7 746.5 304.2 745.2 304.7 743.8C305.2 742.5 305.7 741.2 306.2 739.8C306.6 738.5 307.2 737.2 307.7 735.8C308.2 734.5 308.7 733.2 309.2 731.8C309.7 730.5 310.3 729.2 310.8 727.9C311.4 726.5 311.9 725.2 312.5 723.9C313.0 722.6 313.6 721.3 314.1 720.0C314.7 718.7 315.3 717.3 315.9 716.0C316.5 714.7 317.0 713.4 317.6 712.1C318.2 710.8 318.8 709.5 319.5 708.2C320.1 707.0 320.7 705.7 321.3 704.4C321.9 703.1 322.6 701.8 323.2 700.5C323.8 699.3 324.5 698.0 325.1 696.7C325.8 695.4 326.4 694.2 327.1 692.9C327.8 691.6 328.4 690.4 329.1 689.1C329.8 687.8 330.5 686.6 331.2 685.3C331.9 684.1 332.6 682.8 333.3 681.6C334.0 680.3 334.7 679.1 335.4 677.8C336.1 676.6 336.8 675.4 337.6 674.1C338.3 672.9 339.0 671.7 339.8 670.4C340.5 669.2 341.3 668.0 342.0 666.8C342.8 665.5 343.5 664.3 344.3 663.1C345.0 661.9 345.8 660.7 346.6 659.5C347.4 658.3 348.2 657.1 348.9 655.9C349.7 654.7 350.5 653.5 351.3 652.3C352.1 651.1 352.9 649.9 353.7 648.7C354.6 647.5 355.4 646.3 356.2 645.2C357.0 644.0 357.8 642.8 358.7 641.6C359.5 640.5 360.4 639.3 361.2 638.1C362.0 637.0 362.9 635.8 363.7 634.7C364.6 633.5 365.5 632.4 366.3 631.2C367.2 630.1 368.1 628.9 369.0 627.8C369.8 626.6 370.7 625.5 371.6 624.4C372.5 623.2 373.4 622.1 374.3 621.0C375.2 619.9 376.1 618.7 377.0 617.6C377.9 616.5 378.8 615.4 379.7 614.3C380.6 613.2 381.6 612.1 382.5 611.0C383.4 609.9 384.4 608.8 385.3 607.7C386.2 606.6 387.2 605.5 388.1 604.4C389.1 603.3 390.0 602.3 391.0 601.2C391.9 600.1 392.9 599.0 393.9 598.0C394.8 596.9 395.8 595.8 396.8 594.8C397.8 593.7 398.7 592.7 399.7 591.6C400.7 590.6 401.7 589.5 402.7 588.5C403.7 587.5 404.7 586.4 405.7 585.4C406.7 584.4 407.7 583.3 408.7 582.3C409.7 581.3 410.7 580.3 411.7 579.3C412.8 578.2 413.8 577.2 414.8 576.2C415.8 575.2 416.9 574.2 417.9 573.2C418.9 572.2 420.0 571.2 421.0 570.2C422.1 569.3 423.1 568.3 424.2 567.3C425.2 566.3 426.3 565.4 427.3 564.4C428.4 563.4 429.5 562.5 430.5 561.5C431.6 560.5 432.7 559.6 433.7 558.6C434.8 557.7 435.9 556.7 437.0 555.8C438.1 554.9 439.1 553.9 440.2 553.0C441.3 552.1 442.4 551.1 443.5 550.2C444.6 549.3 445.7 548.4 446.8 547.5C447.9 546.6 449.0 545.7 450.1 544.8C451.2 543.9 452.4 543.0 453.5 542.1C454.6 541.2 455.7 540.3 456.8 539.4C458.0 538.5 459.1 537.7 460.2 536.8C461.4 535.9 462.5 535.1 463.6 534.2C464.8 533.3 465.9 532.5 467.1 531.6C468.2 530.8 469.4 529.9 470.5 529.1C471.7 528.3 472.8 527.4 474.0 526.6C475.2 525.8 476.3 525.0 477.5 524.1C478.7 523.3 479.8 522.5 481.0 521.7C482.2 520.9 483.4 520.1 484.5 519.3C485.7 518.5 486.9 517.7 488.1 516.9C489.3 516.1 490.5 515.3 491.7 514.6C492.9 513.8 494.1 513.0 495.3 512.3C496.5 511.5 497.7 510.7 498.9 510.0C500.1 509.2 501.3 508.5 502.5 507.7C503.7 507.0 504.9 506.3 506.2 505.5C507.4 504.8 508.6 504.1 509.8 503.3C511.1 502.6 512.3 501.9 513.5 501.2C514.8 500.5 516.0 499.8 517.2 499.1C518.5 498.4 519.7 497.7 521.0 497.0C522.2 496.3 523.5 495.7 524.7 495.0C526.0 494.3 527.2 493.6 528.5 493.0C529.7 492.3 531.0 491.7 532.3 491.0C533.5 490.3 534.8 489.7 536.1 489.1C537.3 488.4 538.6 487.8 539.9 487.2C541.2 486.5 542.4 485.9 543.7 485.3C545.0 484.7 546.3 484.1 547.6 483.5C548.9 482.9 550.2 482.3 551.5 481.7C552.8 481.1 554.0 480.5 555.3 479.9C556.6 479.3 558.0 478.8 559.3 478.2C560.6 477.6 561.9 477.0 563.2 476.5C564.5 475.9 565.8 475.4 567.1 474.8C568.4 474.3 569.8 473.8 571.1 473.2C572.4 472.7 573.7 472.2 575.0 471.6C576.4 471.1 577.7 470.6 579.0 470.1C580.4 469.6 581.7 469.1 583.0 468.6C584.4 468.1 585.7 467.6 587.1 467.1C588.4 466.6 589.7 466.1 591.1 465.7C592.4 465.2 593.8 464.7 595.1 464.3C596.5 463.8 597.8 463.3 599.2 462.9C600.6 462.4 601.9 462.0 603.3 461.6C604.6 461.1 606.0 460.7 607.4 460.3C608.7 459.8 610.1 459.4 611.5 459.0C612.8 458.6 614.2 458.2 615.6 457.8C617.0 457.4 618.3 457.0 619.7 456.6C621.1 456.2 622.5 455.8 623.9 455.4C625.2 455.0 626.6 454.7 628.0 454.3C629.4 453.9 630.8 453.6 632.2 453.2C633.6 452.9 635.0 452.5 636.4 452.2C637.8 451.8 639.2 451.5 640.6 451.2C642.0 450.8 643.4 450.5 644.8 450.2C646.2 449.9 647.6 449.5 649.0 449.2C650.4 448.9 651.8 448.6 653.2 448.3C654.6 448.0 656.0 447.8 657.4 447.5C658.8 447.2 660.3 446.9 661.7 446.6C663.1 446.4 664.5 446.1 665.9 445.8C667.4 445.6 668.8 445.3 670.2 445.1C671.6 444.8 673.1 444.6 674.5 444.4C675.9 444.1 677.3 443.9 678.8 443.7C680.2 443.4 681.6 443.2 683.1 443.0C684.5 442.8 685.9 442.6 687.4 442.4C688.8 442.2 690.2 442.0 691.7 441.8C693.1 441.6 694.6 441.5 696.0 441.3C697.4 441.1 696.4 441.2 700.3 440.8C704.3 440.4 713.2 439.3 719.7 438.8C726.2 438.2 733.3 437.7 739.3 437.3C745.3 437.0 752.2 436.9 755.6 436.8C759.0 436.6 758.4 436.5 759.6 436.6C760.8 436.7 762.1 436.9 763.1 437.3C764.0 437.7 764.6 438.2 765.1 438.8C765.7 439.4 766.2 440.1 766.5 440.9C766.9 441.7 767.2 443.1 767.3 443.5" stroke="#99c40f" stroke-width="1.55"/>
<path d="M288.3 814.6C288.4 813.9 288.8 811.7 289.1 810.3C289.3 808.9 289.6 807.5 289.8 806.1C290.1 804.7 290.4 803.3 290.7 801.9C291.0 800.5 291.3 799.1 291.6 797.8C291.9 796.4 292.2 795.0 292.5 793.6C292.8 792.2 293.2 790.8 293.5 789.4C293.8 788.1 294.2 786.7 294.5 785.3C294.9 783.9 295.2 782.5 295.6 781.2C295.9 779.8 296.3 778.4 296.7 777.1C297.1 775.7 297.5 774.3 297.9 773.0C298.2 771.6 298.6 770.2 299.1 768.9C299.5 767.5 299.9 766.2 300.3 764.8C300.7 763.5 301.2 762.1 301.6 760.8C302.0 759.4 302.5 758.1 302.9 756.7C303.4 755.4 303.8 754.1 304.3 752.7C304.8 751.4 305.2 750.1 305.7 748.7C306.2 747.4 306.7 746.1 307.2 744.7C307.7 743.4 308.2 742.1 308.7 740.8C309.2 739.5 309.7 738.1 310.2 736.8C310.7 735.5 311.3 734.2 311.8 732.9C312.3 731.6 312.9 730.3 313.4 729.0C314.0 727.7 314.5 726.4 315.1 725.1C315.6 723.8 316.2 722.5 316.8 721.2C317.4 719.9 317.9 718.6 318.5 717.3C319.1 716.1 319.7 714.8 320.3 713.5C320.9 712.2 321.5 711.0 322.1 709.7C322.7 708.4 323.4 707.1 324.0 705.9C324.6 704.6 325.2 703.3 325.9 702.1C326.5 700.8 327.2 699.6 327.8 698.3C328.5 697.1 329.1 695.8 329.8 694.6C330.5 693.3 331.1 692.1 331.8 690.8C332.5 689.6 333.2 688.4 333.8 687.1C334.5 685.9 335.2 684.7 335.9 683.4C336.6 682.2 337.3 681.0 338.1 679.8C338.8 678.6 339.5 677.3 340.2 676.1C340.9 674.9 341.7 673.7 342.4 672.5C343.1 671.3 343.9 670.1 344.6 668.9C345.4 667.7 346.1 666.5 346.9 665.3C347.6 664.1 348.4 662.9 349.2 661.7C350.0 660.5 350.7 659.4 351.5 658.2C352.3 657.0 353.1 655.8 353.9 654.7C354.7 653.5 355.5 652.3 356.3 651.2C357.1 650.0 357.9 648.8 358.7 647.7C359.5 646.5 360.3 645.4 361.2 644.2C362.0 643.1 362.8 641.9 363.7 640.8C364.5 639.7 365.3 638.5 366.2 637.4C367.0 636.2 367.9 635.1 368.8 634.0C369.6 632.9 370.5 631.7 371.3 630.6C372.2 629.5 373.1 628.4 374.0 627.3C374.9 626.2 375.7 625.1 376.6 624.0C377.5 622.9 378.4 621.8 379.3 620.7C380.2 619.6 381.1 618.5 382.0 617.4C382.9 616.3 383.9 615.2 384.8 614.1C385.7 613.1 386.6 612.0 387.5 610.9C388.5 609.9 389.4 608.8 390.4 607.7C391.3 606.7 392.2 605.6 393.2 604.6C394.1 603.5 395.1 602.4 396.0 601.4C397.0 600.4 398.0 599.3 398.9 598.3C399.9 597.2 400.9 596.2 401.9 595.2C402.8 594.2 403.8 593.1 404.8 592.1C405.8 591.1 406.8 590.1 407.8 589.1C408.8 588.0 409.8 587.0 410.8 586.0C411.8 585.0 412.8 584.0 413.8 583.0C414.8 582.0 415.8 581.1 416.8 580.1C417.9 579.1 418.9 578.1 419.9 577.1C421.0 576.2 422.0 575.2 423.0 574.2C424.1 573.2 425.1 572.3 426.2 571.3C427.2 570.4 428.3 569.4 429.3 568.5C430.4 567.5 431.4 566.6 432.5 565.6C433.6 564.7 434.6 563.8 435.7 562.8C436.8 561.9 437.8 561.0 438.9 560.0C440.0 559.1 441.1 558.2 442.2 557.3C443.3 556.4 444.3 555.5 445.4 554.6C446.5 553.7 447.6 552.8 448.7 551.9C449.8 551.0 451.0 550.1 452.1 549.2C453.2 548.3 454.3 547.5 455.4 546.6C456.5 545.7 457.6 544.8 458.8 544.0C459.9 543.1 461.0 542.2 462.2 541.4C463.3 540.5 464.4 539.7 465.6 538.8C466.7 538.0 467.9 537.2 469.0 536.3C470.1 535.5 471.3 534.7 472.5 533.8C473.6 533.0 474.8 532.2 475.9 531.4C477.1 530.6 478.2 529.8 479.4 529.0C480.6 528.1 481.8 527.3 482.9 526.6C484.1 525.8 485.3 525.0 486.5 524.2C487.6 523.4 488.8 522.6 490.0 521.8C491.2 521.1 492.4 520.3 493.6 519.5C494.8 518.8 496.0 518.0 497.2 517.3C498.4 516.5 499.6 515.8 500.8 515.0C502.0 514.3 503.2 513.5 504.4 512.8C505.6 512.1 506.9 511.4 508.1 510.6C509.3 509.9 510.5 509.2 511.8 508.5C513.0 507.8 514.2 507.1 515.4 506.4C516.7 505.7 517.9 505.0 519.1 504.3C520.4 503.6 521.6 502.9 522.9 502.2C524.1 501.6 525.4 500.9 526.6 500.2C527.9 499.5 529.1 498.9 530.4 498.2C531.6 497.6 532.9 496.9 534.1 496.3C535.4 495.6 536.7 495.0 537.9 494.4C539.2 493.7 540.5 493.1 541.7 492.5C543.0 491.9 544.3 491.2 545.5 490.6C546.8 490.0 548.1 489.4 549.4 488.8C550.7 488.2 552.0 487.6 553.2 487.0C554.5 486.4 555.8 485.9 557.1 485.3C558.4 484.7 559.7 484.1 561.0 483.6C562.3 483.0 563.6 482.4 564.9 481.9C566.2 481.3 567.5 480.8 568.8 480.2C570.1 479.7 571.4 479.2 572.7 478.6C574.0 478.1 575.3 477.6 576.7 477.1C578.0 476.5 579.3 476.0 580.6 475.5C581.9 475.0 583.2 474.5 584.6 474.0C585.9 473.5 587.2 473.0 588.5 472.6C589.9 472.1 591.2 471.6 592.5 471.1C593.9 470.7 595.2 470.2 596.5 469.7C597.9 469.3 599.2 468.8 600.5 468.4C601.9 467.9 603.2 467.5 604.6 467.1C605.9 466.6 607.3 466.2 608.6 465.8C610.0 465.4 611.3 464.9 612.7 464.5C614.0 464.1 615.4 463.7 616.7 463.3C618.1 462.9 619.4 462.5 620.8 462.1C622.1 461.8 623.5 461.4 624.9 461.0C626.2 460.6 627.6 460.3 629.0 459.9C630.3 459.6 631.7 459.2 633.1 458.9C634.4 458.5 635.8 458.2 637.2 457.8C638.5 457.5 639.9 457.2 641.3 456.9C642.7 456.5 644.0 456.2 645.4 455.9C646.8 455.6 648.2 455.3 649.5 455.0C650.9 454.7 652.3 454.4 653.7 454.2C655.1 453.9 656.5 453.6 657.8 453.3C659.2 453.1 660.6 452.8 662.0 452.6C663.4 452.3 664.8 452.0 666.2 451.8C667.6 451.6 669.0 451.3 670.3 451.1C671.7 450.9 673.1 450.7 674.5 450.4C675.9 450.2 677.3 450.0 678.7 449.8C680.1 449.6 681.5 449.4 682.9 449.2C684.3 449.0 685.7 448.9 687.1 448.7C688.5 448.5 689.9 448.3 691.3 448.2C692.7 448.0 694.1 447.9 695.5 447.7C696.9 447.6 695.8 447.7 699.8 447.3C703.7 447.0 712.7 446.2 719.1 445.7C725.6 445.2 732.5 444.6 738.3 444.3C744.1 444.0 750.7 443.9 754.0 443.8C757.3 443.6 756.7 443.5 758.0 443.6C759.3 443.7 760.9 443.9 762.0 444.3C763.0 444.7 763.7 445.2 764.3 445.8C765.0 446.4 765.5 447.1 765.9 447.9C766.3 448.7 766.7 450.1 766.8 450.5" stroke="#9999ff" stroke-width="1.3"/>
<path d="M322.7 814.6C322.9 814.0 323.4 812.2 323.7 811.0C324.1 809.8 324.5 808.6 324.8 807.4C325.2 806.2 325.6 805.0 326.0 803.8C326.3 802.6 326.7 801.5 327.1 800.3C327.5 799.1 327.9 797.9 328.3 796.7C328.7 795.5 329.1 794.3 329.5 793.2C329.9 792.0 330.4 790.8 330.8 789.6C331.2 788.5 331.7 787.3 332.1 786.1C332.5 785.0 333.0 783.8 333.4 782.6C333.9 781.5 334.3 780.3 334.8 779.2C335.2 778.0 335.7 776.9 336.2 775.7C336.7 774.5 337.1 773.4 337.6 772.3C338.1 771.1 338.6 770.0 339.1 768.8C339.6 767.7 340.1 766.5 340.6 765.4C341.1 764.3 341.6 763.1 342.1 762.0C342.6 760.9 343.1 759.8 343.7 758.6C344.2 757.5 344.7 756.4 345.2 755.3C345.8 754.2 346.3 753.0 346.9 751.9C347.4 750.8 348.0 749.7 348.5 748.6C349.1 747.5 349.6 746.4 350.2 745.3C350.8 744.2 351.4 743.1 351.9 742.0C352.5 740.9 353.1 739.8 353.7 738.7C354.3 737.6 354.9 736.6 355.5 735.5C356.1 734.4 356.7 733.3 357.3 732.2C357.9 731.2 358.5 730.1 359.1 729.0C359.7 727.9 360.3 726.9 361.0 725.8C361.6 724.7 362.2 723.7 362.9 722.6C363.5 721.6 364.1 720.5 364.8 719.4C365.4 718.4 366.1 717.3 366.7 716.3C367.4 715.2 368.1 714.2 368.7 713.2C369.4 712.1 370.1 711.1 370.7 710.0C371.4 709.0 372.1 708.0 372.8 706.9C373.5 705.9 374.1 704.9 374.8 703.9C375.5 702.8 376.2 701.8 376.9 700.8C377.6 699.8 378.3 698.8 379.1 697.8C379.8 696.8 380.5 695.8 381.2 694.7C381.9 693.7 382.6 692.7 383.4 691.7C384.1 690.7 384.8 689.8 385.6 688.8C386.3 687.8 387.1 686.8 387.8 685.8C388.6 684.8 389.3 683.8 390.1 682.8C390.8 681.9 391.6 680.9 392.3 679.9C393.1 678.9 393.9 678.0 394.6 677.0C395.4 676.0 396.2 675.1 397.0 674.1C397.7 673.2 398.5 672.2 399.3 671.3C400.1 670.3 400.9 669.4 401.7 668.4C402.5 667.5 403.3 666.5 404.1 665.6C404.9 664.6 405.7 663.7 406.5 662.8C407.3 661.8 408.2 660.9 409.0 660.0C409.8 659.1 410.6 658.1 411.5 657.2C412.3 656.3 413.1 655.4 413.9 654.5C414.8 653.5 415.6 652.6 416.5 651.7C417.3 650.8 418.2 649.9 419.0 649.0C419.9 648.1 420.7 647.2 421.6 646.3C422.4 645.4 423.3 644.6 424.2 643.7C425.0 642.8 425.9 641.9 426.8 641.0C427.6 640.1 428.5 639.3 429.4 638.4C430.3 637.5 431.2 636.7 432.1 635.8C432.9 634.9 433.8 634.1 434.7 633.2C435.6 632.3 436.5 631.5 437.4 630.6C438.3 629.8 439.2 628.9 440.1 628.1C441.0 627.3 442.0 626.4 442.9 625.6C443.8 624.7 444.7 623.9 445.6 623.1C446.6 622.3 447.5 621.4 448.4 620.6C449.3 619.8 450.3 619.0 451.2 618.1C452.1 617.3 453.1 616.5 454.0 615.7C455.0 614.9 455.9 614.1 456.8 613.3C457.8 612.5 458.7 611.7 459.7 610.9C460.7 610.1 461.6 609.3 462.6 608.5C463.5 607.8 464.5 607.0 465.5 606.2C466.4 605.4 467.4 604.6 468.4 603.9C469.3 603.1 470.3 602.3 471.3 601.6C472.3 600.8 473.3 600.0 474.2 599.3C475.2 598.5 476.2 597.8 477.2 597.0C478.2 596.3 479.2 595.5 480.2 594.8C481.2 594.1 482.2 593.3 483.2 592.6C484.2 591.9 485.2 591.1 486.2 590.4C487.2 589.7 488.2 588.9 489.2 588.2C490.2 587.5 491.2 586.8 492.2 586.1C493.3 585.4 494.3 584.7 495.3 584.0C496.3 583.3 497.3 582.6 498.4 581.9C499.4 581.2 500.4 580.5 501.5 579.8C502.5 579.1 503.5 578.4 504.6 577.7C505.6 577.1 506.6 576.4 507.7 575.7C508.7 575.0 509.8 574.4 510.8 573.7C511.9 573.0 512.9 572.4 514.0 571.7C515.0 571.1 516.1 570.4 517.1 569.8C518.2 569.1 519.2 568.5 520.3 567.8C521.4 567.2 522.4 566.6 523.5 565.9C524.5 565.3 525.6 564.7 526.7 564.0C527.8 563.4 528.8 562.8 529.9 562.2C531.0 561.6 532.1 560.9 533.1 560.3C534.2 559.7 535.3 559.1 536.4 558.5C537.5 557.9 538.5 557.3 539.6 556.7C540.7 556.1 541.8 555.5 542.9 555.0C544.0 554.4 545.1 553.8 546.2 553.2C547.3 552.6 548.4 552.0 549.5 551.5C550.6 550.9 551.7 550.3 552.8 549.8C553.9 549.2 555.0 548.7 556.1 548.1C557.2 547.5 558.3 547.0 559.4 546.4C560.5 545.9 561.6 545.3 562.7 544.8C563.9 544.3 565.0 543.7 566.1 543.2C567.2 542.7 568.3 542.1 569.4 541.6C570.6 541.1 571.7 540.6 572.8 540.0C573.9 539.5 575.1 539.0 576.2 538.5C577.3 538.0 578.5 537.5 579.6 537.0C580.7 536.5 581.9 536.0 583.0 535.5C584.1 535.0 585.3 534.5 586.4 534.0C587.5 533.5 588.7 533.1 589.8 532.6C591.0 532.1 592.1 531.6 593.2 531.2C594.4 530.7 595.5 530.2 596.7 529.7C597.8 529.3 599.0 528.8 600.1 528.4C601.3 527.9 602.4 527.5 603.6 527.0C604.7 526.6 605.9 526.1 607.1 525.7C608.2 525.2 609.4 524.8 610.5 524.4C611.7 523.9 612.9 523.5 614.0 523.1C615.2 522.7 616.3 522.2 617.5 521.8C618.7 521.4 619.8 521.0 621.0 520.6C622.2 520.2 623.3 519.8 624.5 519.4C625.7 519.0 626.9 518.6 628.0 518.2C629.2 517.8 630.4 517.4 631.6 517.0C632.7 516.6 633.9 516.2 635.1 515.9C636.3 515.5 637.4 515.1 638.6 514.7C639.8 514.4 641.0 514.0 642.2 513.7C643.4 513.3 644.5 512.9 645.7 512.6C646.9 512.2 648.1 511.9 649.3 511.5C650.5 511.2 651.7 510.8 652.9 510.5C654.0 510.2 655.2 509.8 656.4 509.5C657.6 509.2 658.8 508.9 660.0 508.5C661.2 508.2 662.4 507.9 663.6 507.6C664.8 507.3 666.0 507.0 667.2 506.7C668.4 506.3 669.6 506.0 670.8 505.8C672.0 505.5 673.2 505.2 674.4 504.9C675.6 504.6 676.8 504.3 678.0 504.0C679.2 503.7 680.4 503.5 681.6 503.2C682.8 502.9 684.0 502.6 685.2 502.4C686.4 502.1 687.7 501.9 688.9 501.6C690.1 501.3 691.3 501.1 692.5 500.9C693.7 500.6 694.9 500.4 696.1 500.1C697.3 499.9 695.8 499.9 699.8 499.4C703.7 498.9 713.3 497.8 720.0 497.1C726.7 496.3 733.8 495.4 739.9 494.9C746.0 494.4 753.1 494.1 756.5 493.9C759.9 493.8 759.3 493.8 760.5 493.8C761.7 493.8 762.7 494.0 763.5 494.2C764.3 494.4 764.8 494.8 765.3 495.1C765.8 495.5 766.2 495.9 766.5 496.4C766.8 496.9 767.1 497.7 767.2 498.0" stroke="#ff9900" stroke-width="1.5"/>
<path d="M354.2 814.7C354.4 814.2 355.1 812.8 355.5 811.9C355.9 810.9 356.3 810.0 356.7 809.1C357.2 808.1 357.6 807.2 358.0 806.3C358.4 805.3 358.9 804.4 359.3 803.5C359.7 802.6 360.2 801.6 360.6 800.7C361.1 799.8 361.5 798.9 362.0 798.0C362.4 797.0 362.9 796.1 363.3 795.2C363.8 794.3 364.3 793.4 364.7 792.5C365.2 791.6 365.7 790.7 366.2 789.8C366.6 788.9 367.1 788.0 367.6 787.1C368.1 786.2 368.6 785.3 369.0 784.4C369.5 783.5 370.0 782.6 370.5 781.7C371.0 780.8 371.5 780.0 372.0 779.1C372.5 778.2 373.0 777.3 373.5 776.4C374.0 775.6 374.6 774.7 375.1 773.8C375.6 772.9 376.1 772.1 376.6 771.2C377.2 770.3 377.7 769.5 378.2 768.6C378.7 767.7 379.3 766.9 379.8 766.0C380.4 765.2 380.9 764.3 381.4 763.4C382.0 762.6 382.5 761.7 383.1 760.9C383.6 760.0 384.2 759.2 384.8 758.3C385.3 757.5 385.9 756.7 386.4 755.8C387.0 755.0 387.6 754.1 388.1 753.3C388.7 752.5 389.3 751.6 389.9 750.8C390.4 750.0 391.0 749.2 391.6 748.3C392.2 747.5 392.8 746.7 393.4 745.9C394.0 745.0 394.5 744.2 395.1 743.4C395.7 742.6 396.3 741.8 396.9 741.0C397.5 740.2 398.2 739.4 398.8 738.6C399.4 737.8 400.0 736.9 400.6 736.2C401.2 735.4 401.8 734.6 402.5 733.8C403.1 733.0 403.7 732.2 404.3 731.4C405.0 730.6 405.6 729.8 406.2 729.0C406.9 728.2 407.5 727.5 408.1 726.7C408.8 725.9 409.4 725.1 410.1 724.3C410.7 723.6 411.4 722.8 412.0 722.0C412.7 721.3 413.3 720.5 414.0 719.7C414.6 719.0 415.3 718.2 416.0 717.4C416.6 716.7 417.3 715.9 418.0 715.2C418.6 714.4 419.3 713.7 420.0 712.9C420.6 712.2 421.3 711.4 422.0 710.7C422.7 709.9 423.4 709.2 424.1 708.5C424.7 707.7 425.4 707.0 426.1 706.3C426.8 705.5 427.5 704.8 428.2 704.1C428.9 703.3 429.6 702.6 430.3 701.9C431.0 701.2 431.7 700.4 432.4 699.7C433.1 699.0 433.8 698.3 434.6 697.6C435.3 696.9 436.0 696.2 436.7 695.5C437.4 694.7 438.1 694.0 438.9 693.3C439.6 692.6 440.3 691.9 441.0 691.2C441.8 690.6 442.5 689.9 443.2 689.2C444.0 688.5 444.7 687.8 445.5 687.1C446.2 686.4 446.9 685.7 447.7 685.1C448.4 684.4 449.2 683.7 449.9 683.0C450.7 682.3 451.4 681.7 452.2 681.0C452.9 680.3 453.7 679.7 454.5 679.0C455.2 678.3 456.0 677.7 456.7 677.0C457.5 676.4 458.3 675.7 459.0 675.1C459.8 674.4 460.6 673.8 461.4 673.1C462.1 672.5 462.9 671.8 463.7 671.2C464.5 670.5 465.2 669.9 466.0 669.3C466.8 668.6 467.6 668.0 468.4 667.4C469.2 666.7 470.0 666.1 470.8 665.5C471.6 664.8 472.3 664.2 473.1 663.6C473.9 663.0 474.7 662.4 475.5 661.8C476.3 661.1 477.1 660.5 478.0 659.9C478.8 659.3 479.6 658.7 480.4 658.1C481.2 657.5 482.0 656.9 482.8 656.3C483.6 655.7 484.4 655.1 485.3 654.5C486.1 653.9 486.9 653.3 487.7 652.8C488.6 652.2 489.4 651.6 490.2 651.0C491.0 650.4 491.9 649.8 492.7 649.3C493.5 648.7 494.4 648.1 495.2 647.6C496.0 647.0 496.9 646.4 497.7 645.9C498.6 645.3 499.4 644.7 500.2 644.2C501.1 643.6 501.9 643.1 502.8 642.5C503.6 642.0 504.5 641.4 505.3 640.9C506.2 640.3 507.0 639.8 507.9 639.2C508.7 638.7 509.6 638.2 510.5 637.6C511.3 637.1 512.2 636.6 513.0 636.0C513.9 635.5 514.8 635.0 515.6 634.5C516.5 633.9 517.4 633.4 518.2 632.9C519.1 632.4 520.0 631.9 520.9 631.4C521.7 630.8 522.6 630.3 523.5 629.8C524.4 629.3 525.2 628.8 526.1 628.3C527.0 627.8 527.9 627.3 528.8 626.8C529.6 626.3 530.5 625.9 531.4 625.4C532.3 624.9 533.2 624.4 534.1 623.9C535.0 623.4 535.9 623.0 536.8 622.5C537.7 622.0 538.6 621.5 539.5 621.1C540.4 620.6 541.3 620.1 542.2 619.7C543.1 619.2 544.0 618.7 544.9 618.3C545.8 617.8 546.7 617.4 547.6 616.9C548.5 616.5 549.4 616.0 550.3 615.6C551.2 615.1 552.1 614.7 553.0 614.2C553.9 613.8 554.9 613.4 555.8 612.9C556.7 612.5 557.6 612.1 558.5 611.6C559.4 611.2 560.4 610.8 561.3 610.4C562.2 610.0 563.1 609.5 564.1 609.1C565.0 608.7 565.9 608.3 566.8 607.9C567.8 607.5 568.7 607.1 569.6 606.7C570.5 606.3 571.5 605.9 572.4 605.5C573.3 605.1 574.3 604.7 575.2 604.3C576.1 603.9 577.1 603.5 578.0 603.1C579.0 602.7 579.9 602.4 580.8 602.0C581.8 601.6 582.7 601.2 583.7 600.9C584.6 600.5 585.5 600.1 586.5 599.8C587.4 599.4 588.4 599.0 589.3 598.7C590.3 598.3 591.2 597.9 592.2 597.6C593.1 597.2 594.1 596.9 595.0 596.5C596.0 596.2 596.9 595.9 597.9 595.5C598.8 595.2 599.8 594.8 600.7 594.5C601.7 594.2 602.7 593.8 603.6 593.5C604.6 593.2 605.5 592.9 606.5 592.5C607.4 592.2 608.4 591.9 609.4 591.6C610.3 591.3 611.3 591.0 612.3 590.7C613.2 590.3 614.2 590.0 615.2 589.7C616.1 589.4 617.1 589.1 618.1 588.8C619.0 588.5 620.0 588.3 621.0 588.0C621.9 587.7 622.9 587.4 623.9 587.1C624.8 586.8 625.8 586.5 626.8 586.3C627.8 586.0 628.7 585.7 629.7 585.4C630.7 585.2 631.7 584.9 632.6 584.6C633.6 584.4 634.6 584.1 635.6 583.9C636.5 583.6 637.5 583.4 638.5 583.1C639.5 582.9 640.5 582.6 641.4 582.4C642.4 582.1 643.4 581.9 644.4 581.6C645.4 581.4 646.3 581.2 647.3 580.9C648.3 580.7 649.3 580.5 650.3 580.3C651.3 580.0 652.2 579.8 653.2 579.6C654.2 579.4 655.2 579.2 656.2 579.0C657.2 578.7 658.2 578.5 659.2 578.3C660.1 578.1 661.1 577.9 662.1 577.7C663.1 577.5 664.1 577.3 665.1 577.2C666.1 577.0 667.1 576.8 668.1 576.6C669.0 576.4 670.0 576.2 671.0 576.0C672.0 575.9 673.0 575.7 674.0 575.5C675.0 575.4 676.0 575.2 677.0 575.0C678.0 574.9 675.3 575.1 680.0 574.5C684.7 574.0 696.7 572.7 705.1 571.9C713.4 571.2 722.3 570.6 730.2 570.1C738.0 569.7 747.7 569.5 752.0 569.4C756.3 569.2 754.5 569.0 756.0 569.2C757.5 569.4 759.5 569.8 760.8 570.5C762.0 571.2 762.8 572.2 763.6 573.3C764.4 574.4 765.0 575.7 765.5 577.1C766.0 578.6 766.4 581.2 766.6 582.0" stroke="#ff99cc" stroke-width="1.3"/>
<path d="M446.9 814.3C447.1 814.1 447.7 813.3 448.2 812.8C448.6 812.3 449.0 811.8 449.5 811.3C449.9 810.8 450.3 810.3 450.8 809.8C451.2 809.3 451.7 808.8 452.1 808.4C452.5 807.9 453.0 807.4 453.4 806.9C453.9 806.4 454.3 805.9 454.8 805.4C455.2 804.9 455.6 804.4 456.1 804.0C456.5 803.5 457.0 803.0 457.4 802.5C457.9 802.0 458.3 801.5 458.8 801.1C459.2 800.6 459.7 800.1 460.2 799.6C460.6 799.2 461.1 798.7 461.5 798.2C462.0 797.7 462.4 797.3 462.9 796.8C463.4 796.3 463.8 795.8 464.3 795.4C464.7 794.9 465.2 794.4 465.7 794.0C466.1 793.5 466.6 793.0 467.1 792.6C467.5 792.1 468.0 791.6 468.5 791.2C468.9 790.7 469.4 790.2 469.9 789.8C470.3 789.3 470.8 788.8 471.3 788.4C471.8 787.9 472.2 787.5 472.7 787.0C473.2 786.6 473.7 786.1 474.1 785.6C474.6 785.2 475.1 784.7 475.6 784.3C476.1 783.8 476.5 783.4 477.0 782.9C477.5 782.5 478.0 782.0 478.5 781.6C479.0 781.1 479.4 780.7 479.9 780.2C480.4 779.8 480.9 779.4 481.4 778.9C481.9 778.5 482.4 778.0 482.9 777.6C483.3 777.1 483.8 776.7 484.3 776.3C484.8 775.8 485.3 775.4 485.8 775.0C486.3 774.5 486.8 774.1 487.3 773.7C487.8 773.2 488.3 772.8 488.8 772.4C489.3 771.9 489.8 771.5 490.3 771.1C490.8 770.6 491.3 770.2 491.8 769.8C492.3 769.4 492.8 768.9 493.3 768.5C493.8 768.1 494.3 767.7 494.8 767.2C495.3 766.8 495.8 766.4 496.3 766.0C496.9 765.6 497.4 765.2 497.9 764.7C498.4 764.3 498.9 763.9 499.4 763.5C499.9 763.1 500.4 762.7 501.0 762.3C501.5 761.8 502.0 761.4 502.5 761.0C503.0 760.6 503.5 760.2 504.1 759.8C504.6 759.4 505.1 759.0 505.6 758.6C506.1 758.2 506.7 757.8 507.2 757.4C507.7 757.0 508.2 756.6 508.7 756.2C509.3 755.8 509.8 755.4 510.3 755.0C510.9 754.6 511.4 754.2 511.9 753.8C512.4 753.4 513.0 753.0 513.5 752.6C514.0 752.2 514.6 751.8 515.1 751.4C515.6 751.0 516.2 750.7 516.7 750.3C517.2 749.9 517.8 749.5 518.3 749.1C518.8 748.7 519.4 748.3 519.9 748.0C520.4 747.6 521.0 747.2 521.5 746.8C522.1 746.4 522.6 746.1 523.1 745.7C523.7 745.3 524.2 744.9 524.8 744.6C525.3 744.2 525.8 743.8 526.4 743.4C526.9 743.1 527.5 742.7 528.0 742.3C528.6 742.0 529.1 741.6 529.7 741.2C530.2 740.8 530.8 740.5 531.3 740.1C531.9 739.8 532.4 739.4 533.0 739.0C533.5 738.7 534.1 738.3 534.6 737.9C535.2 737.6 535.7 737.2 536.3 736.9C536.8 736.5 537.4 736.2 537.9 735.8C538.5 735.4 539.1 735.1 539.6 734.7C540.2 734.4 540.7 734.0 541.3 733.7C541.9 733.3 542.4 733.0 543.0 732.6C543.5 732.3 544.1 732.0 544.7 731.6C545.2 731.3 545.8 730.9 546.4 730.6C546.9 730.2 547.5 729.9 548.1 729.6C548.6 729.2 549.2 728.9 549.8 728.5C550.3 728.2 550.9 727.9 551.5 727.5C552.0 727.2 552.6 726.9 553.2 726.5C553.7 726.2 554.3 725.9 554.9 725.6C555.5 725.2 556.0 724.9 556.6 724.6C557.2 724.2 557.7 723.9 558.3 723.6C558.9 723.3 559.5 723.0 560.0 722.6C560.6 722.3 561.2 722.0 561.8 721.7C562.4 721.4 562.9 721.0 563.5 720.7C564.1 720.4 564.7 720.1 565.3 719.8C565.8 719.5 566.4 719.1 567.0 718.8C567.6 718.5 568.2 718.2 568.8 717.9C569.3 717.6 569.9 717.3 570.5 717.0C571.1 716.7 571.7 716.4 572.3 716.1C572.9 715.8 573.4 715.5 574.0 715.2C574.6 714.9 575.2 714.6 575.8 714.3C576.4 714.0 577.0 713.7 577.6 713.4C578.2 713.1 578.7 712.8 579.3 712.5C579.9 712.2 580.5 711.9 581.1 711.6C581.7 711.3 582.3 711.1 582.9 710.8C583.5 710.5 584.1 710.2 584.7 709.9C585.3 709.6 585.9 709.4 586.5 709.1C587.1 708.8 587.7 708.5 588.3 708.2C588.9 708.0 589.5 707.7 590.1 707.4C590.7 707.1 591.3 706.8 591.9 706.6C592.5 706.3 593.1 706.0 593.7 705.8C594.3 705.5 594.9 705.2 595.5 704.9C596.1 704.7 596.7 704.4 597.3 704.1C597.9 703.9 598.5 703.6 599.1 703.4C599.7 703.1 600.3 702.8 600.9 702.6C601.5 702.3 602.1 702.1 602.7 701.8C603.4 701.5 604.0 701.3 604.6 701.0C605.2 700.8 605.8 700.5 606.4 700.3C607.0 700.0 607.6 699.8 608.2 699.5C608.8 699.3 609.5 699.0 610.1 698.8C610.7 698.5 611.3 698.3 611.9 698.0C612.5 697.8 613.1 697.6 613.8 697.3C614.4 697.1 615.0 696.8 615.6 696.6C616.2 696.4 616.8 696.1 617.5 695.9C618.1 695.7 618.7 695.4 619.3 695.2C619.9 695.0 620.5 694.7 621.2 694.5C621.8 694.3 622.4 694.0 623.0 693.8C623.6 693.6 624.3 693.4 624.9 693.1C625.5 692.9 626.1 692.7 626.7 692.5C627.4 692.2 628.0 692.0 628.6 691.8C629.2 691.6 629.9 691.4 630.5 691.2C631.1 690.9 631.7 690.7 632.4 690.5C633.0 690.3 633.6 690.1 634.2 689.9C634.9 689.7 635.5 689.5 636.1 689.3C636.7 689.0 637.4 688.8 638.0 688.6C638.6 688.4 639.2 688.2 639.9 688.0C640.5 687.8 641.1 687.6 641.8 687.4C642.4 687.2 643.0 687.0 643.7 686.8C644.3 686.6 644.9 686.4 645.5 686.2C646.2 686.1 646.8 685.9 647.4 685.7C648.1 685.5 648.7 685.3 649.3 685.1C650.0 684.9 650.6 684.7 651.2 684.5C651.9 684.4 652.5 684.2 653.1 684.0C653.8 683.8 654.4 683.6 655.0 683.5C655.7 683.3 656.3 683.1 657.0 682.9C657.6 682.7 658.2 682.6 658.9 682.4C659.5 682.2 660.1 682.1 660.8 681.9C661.4 681.7 662.0 681.5 662.7 681.4C663.3 681.2 664.0 681.0 664.6 680.9C665.2 680.7 665.9 680.6 666.5 680.4C667.2 680.2 667.8 680.1 668.4 679.9C669.1 679.8 669.7 679.6 670.4 679.4C671.0 679.3 671.6 679.1 672.3 679.0C672.9 678.8 673.6 678.7 674.2 678.5C674.9 678.4 675.5 678.2 676.1 678.1C676.8 677.9 677.4 677.8 678.1 677.6C678.7 677.5 672.2 678.5 680.0 677.2C687.8 675.9 714.2 671.3 725.0 669.7C735.8 668.1 739.7 668.1 745.0 667.6C750.3 667.1 754.2 666.9 757.0 666.7C759.8 666.5 760.6 666.5 762.0 666.4C763.4 666.3 764.3 666.3 765.2 666.3C766.1 666.3 767.1 666.4 767.5 666.4" stroke="#00ff00" stroke-width="1.65"/>
</g>
<g stroke-linecap="butt">
<path d="M757.6 209.9L760.5 212.3L763 214L765.2 222L767 235L765.6 233L764.8 240L763.6 238.5L759.6 217.5Z" fill="#ff0000" stroke="#ff0000" stroke-width="0.8"/>
<path d="M760.5 149.3Q765.5 151.5 767.8 156.5" fill="none" stroke="#ffc800" stroke-width="1.6"/>
<path d="M767.8 145.8L767.8 178.0" stroke="#cfb0ff" stroke-width="1.4" fill="none"/>
<path d="M767.6 178.0L767.6 270.0" stroke="#e070f4" stroke-width="0.95" fill="none"/>
<path d="M767.4 270.0L767.4 323.0" stroke="#6a7a5a" stroke-width="1.0" fill="none"/>
<path d="M767.3 323.0L767.3 378.0" stroke="#33cccc" stroke-width="0.9" fill="none"/>
<path d="M766.6 385.0L766.5 583.0" stroke="#ffc4e0" stroke-width="0.7" fill="none"/>
<path d="M767.6 378.0L767.4 520.0" stroke="#e860f8" stroke-width="0.9" fill="none"/>
<path d="M767.0 491.0L766.9 583.0" stroke="#ff88dd" stroke-width="1.0" fill="none"/>
<path d="M766.7 583.0L766.6 668.0" stroke="#9999ff" stroke-width="1.3" fill="none"/>
<path d="M766.4 674.0L766.2 783.0" stroke="#ff2828" stroke-width="0.9" fill="none"/>
<path d="M766.2 783.0L765.7 790.0L765.7 814.0" stroke="#ff6868" stroke-width="0.9" fill="none"/>
<path d="M765.2 666.3L765.2 673.8" stroke="#00ff00" stroke-width="1.5" fill="none"/>
<path d="M769.4 145.8L769.4 182.5" stroke="#ff9900" stroke-width="1.8" fill="none"/>
<path d="M769.5 182.5L769.4 440.0L768.9 491.0" stroke="#ff99cc" stroke-width="2.8" fill="none"/>
<path d="M772.0 145.8L771.8 250.0" stroke="#99c40f" stroke-width="2.1" fill="none"/>
<path d="M771.6 250.0L771.6 300.0L772.2 350.0L772.3 453.0" stroke="#99c40f" stroke-width="1.3" fill="none"/>
<path d="M772.8 237.0L772.8 360.0" stroke="#a090e0" stroke-width="1.2" fill="none"/>
<path d="M773.5 145.8L773.4 237.0" stroke="#ffc800" stroke-width="1.1" fill="none"/>
<path d="M773.9 145.5L773.9 151.5" stroke="#ff0000" stroke-width="1.8" fill="none"/>
<path d="M774.5 151.5L774.5 237.0" stroke="#ff5500" stroke-width="0.8" fill="none"/>
<path d="M774.1 236.0L774.1 350.0L773.7 433.0" stroke="#ff0000" stroke-width="1.9" fill="none"/>
<path d="M773.3 437.0L773.4 582.0" stroke="#ff4848" stroke-width="0.9" fill="none" stroke-dasharray="11 6"/>
<path d="M770.9 308.0L770.9 350.0" stroke="#ff9900" stroke-width="1.4" fill="none"/>
<path d="M771.0 350.0L771.0 453.0" stroke="#ff9900" stroke-width="2.0" fill="none"/>
<path d="M772.6 453.0L772.6 600.0" stroke="#33cccc" stroke-width="1.3" fill="none" stroke-dasharray="11 6"/>
<path d="M772.6 600.0L772.4 696.0" stroke="#33cccc" stroke-width="1.7" fill="none" stroke-dasharray="9 3.5"/>
<path d="M771.9 696.0L771.5 730.0L771.7 811.0" stroke="#33cccc" stroke-width="1.15" fill="none"/>
<path d="M770.8 453.0L770.8 640.0" stroke="#99bb22" stroke-width="2.4" fill="none"/>
<path d="M770.8 640.0L770.2 730.0" stroke="#99bb22" stroke-width="1.8" fill="none"/>
<path d="M770.2 730.0L769.5 776.0" stroke="#99bb22" stroke-width="1.2" fill="none"/>
<path d="M768.7 490.5L768.6 545.0" stroke="#00ff00" stroke-width="1.7" fill="none"/>
<path d="M768.6 545.0L768.4 640.0" stroke="#00ff00" stroke-width="2.0" fill="none"/>
<path d="M768.4 640.0L768.0 730.0" stroke="#00ff00" stroke-width="2.3" fill="none"/>
<path d="M767.9 730.0L767.6 790.0L767.6 814.5" stroke="#00ff00" stroke-width="2.2" fill="none"/>
</g>
<g>
<path d="M434.6 274.7V333.5M425.6 274.7h18 M425.6 333.5h18M418.0 322.8H451.4M418.0 313.8v18 M451.4 313.8v18" stroke="#808080" stroke-width="1.6" fill="none"/><circle cx="434.6" cy="322.8" r="8.9" fill="#808080"/>
<path d="M240.0 397.7V451.2M231.0 397.7h18 M231.0 451.2h18M227.0 440.5H267.0M227.0 431.5v18 M267.0 431.5v18" stroke="#808080" stroke-width="1.6" fill="none"/><circle cx="240.0" cy="440.5" r="8.9" fill="#808080"/>
<path d="M318.8 606.4V675.9M309.8 606.4h18 M309.8 675.9h18M304.2 633.1H349.0M304.2 624.1v18 M349.0 624.1v18" stroke="#808080" stroke-width="1.6" fill="none"/><circle cx="318.8" cy="633.1" r="8.9" fill="#808080"/>
<path d="M427.8 526.1V601.0M418.8 526.1h18 M418.8 601.0h18M417.6 536.8H444.0M417.6 527.8v18 M444.0 527.8v18" stroke="#808080" stroke-width="1.6" fill="none"/><circle cx="427.8" cy="536.8" r="8.9" fill="#808080"/>
<path d="M517.3 515.4V611.7M508.3 515.4h18 M508.3 611.7h18M508.0 526.1H648.6M508.0 517.1v18 M648.6 517.1v18" stroke="#808080" stroke-width="1.6" fill="none"/><circle cx="517.3" cy="526.1" r="7.4" fill="#fff" stroke="#808080" stroke-width="2.7"/>
<path d="M629.0 494.0V601.0M620.0 494.0h18 M620.0 601.0h18M619.0 536.8H642.6M619.0 527.8v18 M642.6 527.8v18" stroke="#808080" stroke-width="1.6" fill="none"/><circle cx="629.0" cy="536.8" r="7.4" fill="#fff" stroke="#808080" stroke-width="2.7"/><circle cx="629.0" cy="536.8" r="2.5" fill="#808080"/>
<path d="M592.5 579.6V793.6M583.5 579.6h18 M583.5 793.6h18M582.4 675.9H609.4M582.4 666.9v18 M609.4 666.9v18" stroke="#808080" stroke-width="1.6" fill="none"/><circle cx="592.5" cy="675.9" r="7.4" fill="#fff" stroke="#808080" stroke-width="2.7"/>
</g>
<text x="27.6" y="172.1" font-size="28.6" textLength="68.6" lengthAdjust="spacingAndGlyphs">8000</text>
<text x="27.8" y="386.0" font-size="28.6" textLength="68.0" lengthAdjust="spacingAndGlyphs">6000</text>
<text x="27.8" y="600.0" font-size="28.6" textLength="68.0" lengthAdjust="spacingAndGlyphs">4000</text>
<text x="27.6" y="814.0" font-size="28.6" textLength="68.4" lengthAdjust="spacingAndGlyphs">2000</text>
<text x="81.0" y="849.5" font-size="28.6" textLength="70.0" lengthAdjust="spacingAndGlyphs">2×10</text>
<text x="151.2" y="841.9" font-size="16" textLength="9.6" lengthAdjust="spacingAndGlyphs" class="s" font-weight="bold">5</text>
<text x="234.6" y="849.5" font-size="28.6" textLength="95.5" lengthAdjust="spacingAndGlyphs">1.5×10</text>
<text x="329.4" y="841.9" font-size="16" textLength="9.4" lengthAdjust="spacingAndGlyphs" class="s" font-weight="bold">5</text>
<text x="431.2" y="849.5" font-size="28.6" textLength="32.5" lengthAdjust="spacingAndGlyphs">10</text>
<text x="463.7" y="841.9" font-size="16" textLength="8.5" lengthAdjust="spacingAndGlyphs" class="s" font-weight="bold">5</text>
<text x="575.0" y="849.5" font-size="28.6" textLength="71.0" lengthAdjust="spacingAndGlyphs">5×10</text>
<text x="646.0" y="841.9" font-size="16" textLength="9.3" lengthAdjust="spacingAndGlyphs" class="s" font-weight="bold">4</text>
<text x="771.6" y="849.5" font-size="28.6" textLength="17.0" lengthAdjust="spacingAndGlyphs">0</text>
<g transform="translate(86.3 525) rotate(-90)">
<text x="0.0" y="0.0" font-size="20" textLength="36.5" lengthAdjust="spacingAndGlyphs">L/L</text>
<circle cx="40.8" cy="1.2" r="3.7" fill="none" stroke="#000" stroke-width="1.3"/><circle cx="40.8" cy="1.2" r="1.2" fill="#000"/>
</g>
<text x="410.5" y="877.7" font-size="22" textLength="11.0" lengthAdjust="spacingAndGlyphs" stroke="#000" stroke-width="0.3">T</text>
<text x="422.5" y="883.4" font-size="12" textLength="16.0" lengthAdjust="spacingAndGlyphs" class="s" font-weight="bold">eff</text>
<text x="450.0" y="877.9" font-size="23.5" textLength="32.6" lengthAdjust="spacingAndGlyphs" stroke="#000" stroke-width="0.2">[K]</text>
<path d="M138 178.1H253.4" stroke="#000" stroke-width="1.5" stroke-dasharray="10.6 5.3" fill="none"/>
<path d="M138 199.5H253.4" stroke="#000" stroke-width="1.5" fill="none"/>
<text x="269.6" y="186.2" font-size="22" textLength="81.0" lengthAdjust="spacingAndGlyphs">Z=8×10</text>
<text x="353.6" y="180.7" font-size="11.5" textLength="16.0" lengthAdjust="spacingAndGlyphs" class="s" font-weight="bold">−3</text>
<text x="269.6" y="207.2" font-size="22" textLength="81.0" lengthAdjust="spacingAndGlyphs">Z=4×10</text>
<text x="353.6" y="201.6" font-size="11.5" textLength="16.0" lengthAdjust="spacingAndGlyphs" class="s" font-weight="bold">−3</text>
<text x="137.9" y="226.7" font-size="22" textLength="61.3" lengthAdjust="spacingAndGlyphs" fill="#ff0000" stroke="#ff0000" stroke-width="0.35">2.50M</text>
<circle cx="204.5" cy="228.6" r="4.1" fill="none" stroke="#ff0000" stroke-width="1.5"/><circle cx="204.5" cy="228.6" r="1.2" fill="#ff0000"/>
<text x="137.9" y="248.1" font-size="22" textLength="61.3" lengthAdjust="spacingAndGlyphs" fill="#ffc800">2.00M</text>
<circle cx="204.5" cy="250.0" r="4.1" fill="none" stroke="#ffc800" stroke-width="1.2"/><circle cx="204.5" cy="250.0" r="1.2" fill="#ffc800"/>
<text x="137.9" y="269.6" font-size="22" textLength="61.3" lengthAdjust="spacingAndGlyphs" fill="#33cccc">1.50M</text>
<circle cx="204.5" cy="271.5" r="4.1" fill="none" stroke="#33cccc" stroke-width="1.2"/><circle cx="204.5" cy="271.5" r="1.2" fill="#33cccc"/>
<text x="137.9" y="291.0" font-size="22" textLength="61.3" lengthAdjust="spacingAndGlyphs" fill="#ff00ff">1.25M</text>
<circle cx="204.5" cy="292.9" r="4.1" fill="none" stroke="#ff00ff" stroke-width="1.2"/><circle cx="204.5" cy="292.9" r="1.2" fill="#ff00ff"/>
<text x="137.9" y="312.5" font-size="22" textLength="61.3" lengthAdjust="spacingAndGlyphs" fill="#99c40f">1.00M</text>
<circle cx="204.5" cy="314.4" r="4.1" fill="none" stroke="#99c40f" stroke-width="1.2"/><circle cx="204.5" cy="314.4" r="1.2" fill="#99c40f"/>
<text x="137.9" y="333.9" font-size="22" textLength="61.3" lengthAdjust="spacingAndGlyphs" fill="#9999ff">0.90M</text>
<circle cx="204.5" cy="335.8" r="4.1" fill="none" stroke="#9999ff" stroke-width="1.2"/><circle cx="204.5" cy="335.8" r="1.2" fill="#9999ff"/>
<text x="137.9" y="355.4" font-size="22" textLength="61.3" lengthAdjust="spacingAndGlyphs" fill="#ff9900" stroke="#ff9900" stroke-width="0.35">0.80M</text>
<circle cx="204.5" cy="357.3" r="4.1" fill="none" stroke="#ff9900" stroke-width="1.5"/><circle cx="204.5" cy="357.3" r="1.2" fill="#ff9900"/>
<text x="137.9" y="376.9" font-size="22" textLength="61.3" lengthAdjust="spacingAndGlyphs" fill="#ff99cc">0.70M</text>
<circle cx="204.5" cy="378.8" r="4.1" fill="none" stroke="#ff99cc" stroke-width="1.2"/><circle cx="204.5" cy="378.8" r="1.2" fill="#ff99cc"/>
<text x="137.9" y="398.3" font-size="22" textLength="61.3" lengthAdjust="spacingAndGlyphs" fill="#00ff00" stroke="#00ff00" stroke-width="0.35">0.60M</text>
<circle cx="204.5" cy="400.2" r="4.1" fill="none" stroke="#00ff00" stroke-width="1.5"/><circle cx="204.5" cy="400.2" r="1.2" fill="#00ff00"/>
<circle cx="240.1" cy="221" r="9" fill="#808080"/>
<circle cx="240.1" cy="242.4" r="7.7" fill="#fff" stroke="#808080" stroke-width="2.7"/>
<circle cx="240.1" cy="263.9" r="7.7" fill="#fff" stroke="#808080" stroke-width="2.7"/><circle cx="240.1" cy="263.9" r="2.6" fill="#808080"/>
<text x="257.6" y="229.2" font-size="22" textLength="72.4" lengthAdjust="spacingAndGlyphs" stroke="#000" stroke-width="0.12">C−star</text>
<text x="257.6" y="250.6" font-size="22" textLength="72.4" lengthAdjust="spacingAndGlyphs" stroke="#000" stroke-width="0.12">O−star</text>
<text x="257.6" y="272.0" font-size="22" textLength="67.3" lengthAdjust="spacingAndGlyphs" stroke="#000" stroke-width="0.12">Undef.</text>
<text x="457.6" y="336.3" font-size="18.45" class="s">SMP LMC 4</text>
<text x="125.6" y="471.9" font-size="18.45" class="s">SMP LMC 71</text>
<text x="177.0" y="622.2" font-size="18.45" class="s">SMP LMC 102</text>
<text x="368.0" y="515.5" font-size="18.45" class="s">SMP LMC 66</text>
<text x="493.2" y="498.9" font-size="18.45" class="s">SMP LMC 81</text>
<text x="655.2" y="535.9" font-size="18.45" class="s">SMP LMC 34</text>
<text x="602.2" y="654.0" font-size="18.45" class="s">SMP LMC 80</text>
</svg></body></html>
